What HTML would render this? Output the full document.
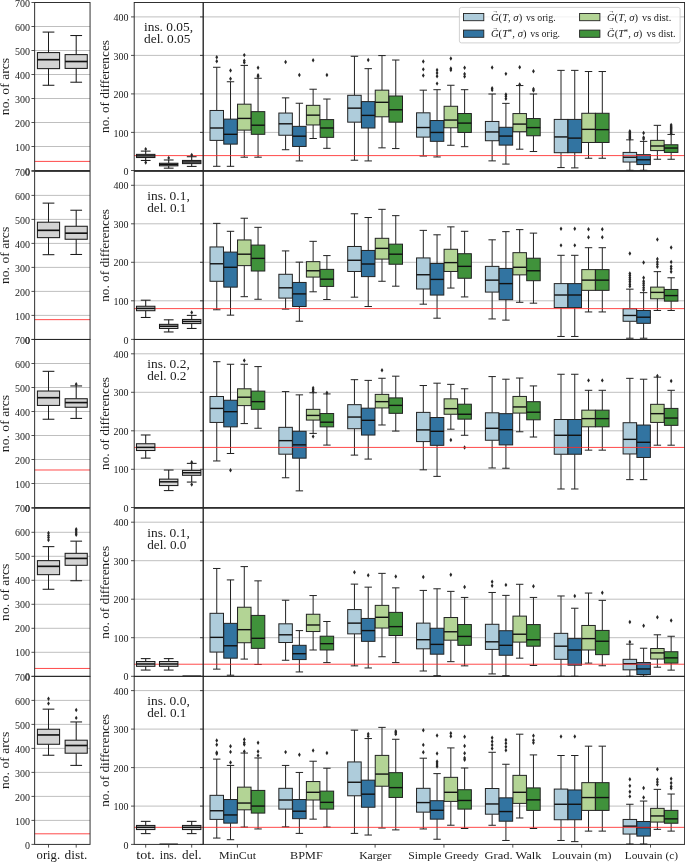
<!DOCTYPE html>
<html><head><meta charset="utf-8"><title>Boxplots</title>
<style>html,body{margin:0;padding:0;background:#fff}svg{display:block}</style></head>
<body>
<svg width="685" height="862" viewBox="0 0 685 862" font-family='"Liberation Serif", "DejaVu Serif", serif' fill="#1a1a1a">
<rect width="685" height="862" fill="#ffffff"/>
<line x1="34.65" y1="146.5" x2="90.05" y2="146.5" stroke="#b8b8b8" stroke-width="0.9"/>
<line x1="34.65" y1="122.5" x2="90.05" y2="122.5" stroke="#b8b8b8" stroke-width="0.9"/>
<line x1="34.65" y1="98.5" x2="90.05" y2="98.5" stroke="#b8b8b8" stroke-width="0.9"/>
<line x1="34.65" y1="74.5" x2="90.05" y2="74.5" stroke="#b8b8b8" stroke-width="0.9"/>
<line x1="34.65" y1="50.5" x2="90.05" y2="50.5" stroke="#b8b8b8" stroke-width="0.9"/>
<line x1="34.65" y1="26.5" x2="90.05" y2="26.5" stroke="#b8b8b8" stroke-width="0.9"/>
<line x1="134.2" y1="132.4" x2="684.6" y2="132.4" stroke="#b8b8b8" stroke-width="0.9"/>
<line x1="134.2" y1="93.9" x2="684.6" y2="93.9" stroke="#b8b8b8" stroke-width="0.9"/>
<line x1="134.2" y1="55.4" x2="684.6" y2="55.4" stroke="#b8b8b8" stroke-width="0.9"/>
<line x1="134.2" y1="16.9" x2="684.6" y2="16.9" stroke="#b8b8b8" stroke-width="0.9"/>
<line x1="48.5" y1="68.62" x2="48.5" y2="85.27" stroke="#1c1c1c" stroke-width="1.05"/>
<line x1="48.5" y1="52.58" x2="48.5" y2="32.08" stroke="#1c1c1c" stroke-width="1.05"/>
<line x1="42.63" y1="85.27" x2="54.37" y2="85.27" stroke="#1c1c1c" stroke-width="1.05"/>
<line x1="42.63" y1="32.08" x2="54.37" y2="32.08" stroke="#1c1c1c" stroke-width="1.05"/>
<rect x="37.42" y="52.58" width="22.16" height="16.04" fill="#d3d3d3" stroke="#1c1c1c" stroke-width="1.05"/>
<line x1="37.42" y1="59.69" x2="59.58" y2="59.69" stroke="#111111" stroke-width="1.65"/>
<line x1="76.2" y1="68.42" x2="76.2" y2="82.22" stroke="#1c1c1c" stroke-width="1.05"/>
<line x1="76.2" y1="54.61" x2="76.2" y2="35.53" stroke="#1c1c1c" stroke-width="1.05"/>
<line x1="70.33" y1="82.22" x2="82.07" y2="82.22" stroke="#1c1c1c" stroke-width="1.05"/>
<line x1="70.33" y1="35.53" x2="82.07" y2="35.53" stroke="#1c1c1c" stroke-width="1.05"/>
<rect x="65.12" y="54.61" width="22.16" height="13.81" fill="#d3d3d3" stroke="#1c1c1c" stroke-width="1.05"/>
<line x1="65.12" y1="61.51" x2="87.28" y2="61.51" stroke="#111111" stroke-width="1.65"/>
<line x1="34.65" y1="161.4" x2="90.05" y2="161.4" stroke="#ff2a2a" stroke-width="1.0" stroke-opacity="0.85"/>
<line x1="134.2" y1="155.6" x2="203.2" y2="155.6" stroke="#ff2a2a" stroke-width="1.0" stroke-opacity="0.85"/>
<line x1="145.7" y1="157.53" x2="145.7" y2="160.45" stroke="#1c1c1c" stroke-width="1.05"/>
<line x1="145.7" y1="154.38" x2="145.7" y2="151.11" stroke="#1c1c1c" stroke-width="1.05"/>
<line x1="140.82" y1="160.45" x2="150.58" y2="160.45" stroke="#1c1c1c" stroke-width="1.05"/>
<line x1="140.82" y1="151.11" x2="150.58" y2="151.11" stroke="#1c1c1c" stroke-width="1.05"/>
<rect x="136.5" y="154.38" width="18.4" height="3.15" fill="#d3d3d3" stroke="#1c1c1c" stroke-width="1.05"/>
<line x1="136.5" y1="155.9" x2="154.9" y2="155.9" stroke="#111111" stroke-width="1.5"/>
<path d="M145.7 146.88L147.1 149.12L145.7 151.36L144.3 149.12Z" fill="#262626"/>
<path d="M145.7 160.31L147.1 162.55L145.7 164.79L144.3 162.55Z" fill="#262626"/>
<line x1="168.7" y1="165.82" x2="168.7" y2="168.16" stroke="#1c1c1c" stroke-width="1.05"/>
<line x1="168.7" y1="163.26" x2="168.7" y2="159.99" stroke="#1c1c1c" stroke-width="1.05"/>
<line x1="163.82" y1="168.16" x2="173.58" y2="168.16" stroke="#1c1c1c" stroke-width="1.05"/>
<line x1="163.82" y1="159.99" x2="173.58" y2="159.99" stroke="#1c1c1c" stroke-width="1.05"/>
<rect x="159.5" y="163.26" width="18.4" height="2.57" fill="#d3d3d3" stroke="#1c1c1c" stroke-width="1.05"/>
<line x1="159.5" y1="164.54" x2="177.9" y2="164.54" stroke="#111111" stroke-width="1.5"/>
<path d="M168.7 155.64L170.1 157.88L168.7 160.12L167.3 157.88Z" fill="#262626"/>
<line x1="191.7" y1="163.61" x2="191.7" y2="166.41" stroke="#1c1c1c" stroke-width="1.05"/>
<line x1="191.7" y1="160.45" x2="191.7" y2="156.72" stroke="#1c1c1c" stroke-width="1.05"/>
<line x1="186.82" y1="166.41" x2="196.58" y2="166.41" stroke="#1c1c1c" stroke-width="1.05"/>
<line x1="186.82" y1="156.72" x2="196.58" y2="156.72" stroke="#1c1c1c" stroke-width="1.05"/>
<rect x="182.5" y="160.45" width="18.4" height="3.15" fill="#d3d3d3" stroke="#1c1c1c" stroke-width="1.05"/>
<line x1="182.5" y1="161.97" x2="200.9" y2="161.97" stroke="#111111" stroke-width="1.5"/>
<path d="M191.7 152.72L193.1 154.96L191.7 157.2L190.3 154.96Z" fill="#262626"/>
<line x1="216.75" y1="140.38" x2="216.75" y2="166.31" stroke="#222222" stroke-width="1.0"/>
<line x1="216.75" y1="110.48" x2="216.75" y2="67.27" stroke="#222222" stroke-width="1.0"/>
<line x1="213.03" y1="166.31" x2="220.46" y2="166.31" stroke="#222222" stroke-width="1.0"/>
<line x1="213.03" y1="67.27" x2="220.46" y2="67.27" stroke="#222222" stroke-width="1.0"/>
<rect x="210" y="110.48" width="13.49" height="29.9" fill="#aeccdb" stroke="#222222" stroke-width="1.0"/>
<line x1="210" y1="128" x2="223.49" y2="128" stroke="#111111" stroke-width="1.4"/>
<path d="M216.75 58.96L218.15 61.2L216.75 63.44L215.34 61.2Z" fill="#262626"/>
<path d="M216.75 54.99L218.15 57.23L216.75 59.47L215.34 57.23Z" fill="#262626"/>
<line x1="230.52" y1="144.12" x2="230.52" y2="166.31" stroke="#222222" stroke-width="1.0"/>
<line x1="230.52" y1="119.12" x2="230.52" y2="81.75" stroke="#222222" stroke-width="1.0"/>
<line x1="226.8" y1="166.31" x2="234.23" y2="166.31" stroke="#222222" stroke-width="1.0"/>
<line x1="226.8" y1="81.75" x2="234.23" y2="81.75" stroke="#222222" stroke-width="1.0"/>
<rect x="223.77" y="119.12" width="13.49" height="24.99" fill="#3274a1" stroke="#222222" stroke-width="1.0"/>
<line x1="223.77" y1="134.31" x2="237.26" y2="134.31" stroke="#111111" stroke-width="1.4"/>
<path d="M230.52 76.48L231.92 78.72L230.52 80.96L229.12 78.72Z" fill="#262626"/>
<path d="M230.52 68.3L231.92 70.54L230.52 72.78L229.12 70.54Z" fill="#262626"/>
<line x1="244.28" y1="130.1" x2="244.28" y2="157.2" stroke="#222222" stroke-width="1.0"/>
<line x1="244.28" y1="104.18" x2="244.28" y2="65.4" stroke="#222222" stroke-width="1.0"/>
<line x1="240.57" y1="157.2" x2="248" y2="157.2" stroke="#222222" stroke-width="1.0"/>
<line x1="240.57" y1="65.4" x2="248" y2="65.4" stroke="#222222" stroke-width="1.0"/>
<rect x="237.54" y="104.18" width="13.49" height="25.93" fill="#b3d495" stroke="#222222" stroke-width="1.0"/>
<line x1="237.54" y1="118.42" x2="251.03" y2="118.42" stroke="#111111" stroke-width="1.4"/>
<path d="M244.28 60.36L245.69 62.6L244.28 64.84L242.88 62.6Z" fill="#262626"/>
<path d="M244.28 58.49L245.69 60.73L244.28 62.97L242.88 60.73Z" fill="#262626"/>
<path d="M244.28 52.88L245.69 55.12L244.28 57.36L242.88 55.12Z" fill="#262626"/>
<line x1="258.06" y1="134.31" x2="258.06" y2="157.2" stroke="#222222" stroke-width="1.0"/>
<line x1="258.06" y1="111.65" x2="258.06" y2="78.25" stroke="#222222" stroke-width="1.0"/>
<line x1="254.34" y1="157.2" x2="261.77" y2="157.2" stroke="#222222" stroke-width="1.0"/>
<line x1="254.34" y1="78.25" x2="261.77" y2="78.25" stroke="#222222" stroke-width="1.0"/>
<rect x="251.31" y="111.65" width="13.49" height="22.66" fill="#40923b" stroke="#222222" stroke-width="1.0"/>
<line x1="251.31" y1="125.2" x2="264.8" y2="125.2" stroke="#111111" stroke-width="1.4"/>
<path d="M258.06 74.37L259.45 76.61L258.06 78.85L256.66 76.61Z" fill="#262626"/>
<path d="M258.06 72.97L259.45 75.21L258.06 77.45L256.66 75.21Z" fill="#262626"/>
<path d="M258.06 65.5L259.45 67.74L258.06 69.98L256.66 67.74Z" fill="#262626"/>
<line x1="285.6" y1="135.24" x2="285.6" y2="149.72" stroke="#222222" stroke-width="1.0"/>
<line x1="285.6" y1="113.05" x2="285.6" y2="97.87" stroke="#222222" stroke-width="1.0"/>
<line x1="281.88" y1="149.72" x2="289.31" y2="149.72" stroke="#222222" stroke-width="1.0"/>
<line x1="281.88" y1="97.87" x2="289.31" y2="97.87" stroke="#222222" stroke-width="1.0"/>
<rect x="278.85" y="113.05" width="13.49" height="22.19" fill="#aeccdb" stroke="#222222" stroke-width="1.0"/>
<line x1="278.85" y1="123.8" x2="292.34" y2="123.8" stroke="#111111" stroke-width="1.4"/>
<path d="M285.6 59.66L287 61.9L285.6 64.14L284.2 61.9Z" fill="#262626"/>
<line x1="299.37" y1="146.45" x2="299.37" y2="160.93" stroke="#222222" stroke-width="1.0"/>
<line x1="299.37" y1="126.36" x2="299.37" y2="103.24" stroke="#222222" stroke-width="1.0"/>
<line x1="295.65" y1="160.93" x2="303.08" y2="160.93" stroke="#222222" stroke-width="1.0"/>
<line x1="295.65" y1="103.24" x2="303.08" y2="103.24" stroke="#222222" stroke-width="1.0"/>
<rect x="292.62" y="126.36" width="13.49" height="20.09" fill="#3274a1" stroke="#222222" stroke-width="1.0"/>
<line x1="292.62" y1="136.18" x2="306.11" y2="136.18" stroke="#111111" stroke-width="1.4"/>
<path d="M299.37 72.74L300.76 74.98L299.37 77.22L297.97 74.98Z" fill="#262626"/>
<line x1="313.13" y1="124.96" x2="313.13" y2="138.51" stroke="#222222" stroke-width="1.0"/>
<line x1="313.13" y1="105.34" x2="313.13" y2="89.23" stroke="#222222" stroke-width="1.0"/>
<line x1="309.42" y1="138.51" x2="316.85" y2="138.51" stroke="#222222" stroke-width="1.0"/>
<line x1="309.42" y1="89.23" x2="316.85" y2="89.23" stroke="#222222" stroke-width="1.0"/>
<rect x="306.39" y="105.34" width="13.49" height="19.62" fill="#b3d495" stroke="#222222" stroke-width="1.0"/>
<line x1="306.39" y1="115.15" x2="319.88" y2="115.15" stroke="#111111" stroke-width="1.4"/>
<path d="M313.13 58.02L314.53 60.26L313.13 62.5L311.74 60.26Z" fill="#262626"/>
<line x1="326.91" y1="137.34" x2="326.91" y2="148.32" stroke="#222222" stroke-width="1.0"/>
<line x1="326.91" y1="119.59" x2="326.91" y2="99.04" stroke="#222222" stroke-width="1.0"/>
<line x1="323.19" y1="148.32" x2="330.62" y2="148.32" stroke="#222222" stroke-width="1.0"/>
<line x1="323.19" y1="99.04" x2="330.62" y2="99.04" stroke="#222222" stroke-width="1.0"/>
<rect x="320.16" y="119.59" width="13.49" height="17.75" fill="#40923b" stroke="#222222" stroke-width="1.0"/>
<line x1="320.16" y1="128" x2="333.65" y2="128" stroke="#111111" stroke-width="1.4"/>
<path d="M326.91 72.74L328.31 74.98L326.91 77.22L325.51 74.98Z" fill="#262626"/>
<line x1="354.45" y1="122.16" x2="354.45" y2="160.23" stroke="#222222" stroke-width="1.0"/>
<line x1="354.45" y1="95.3" x2="354.45" y2="56.29" stroke="#222222" stroke-width="1.0"/>
<line x1="350.73" y1="160.23" x2="358.16" y2="160.23" stroke="#222222" stroke-width="1.0"/>
<line x1="350.73" y1="56.29" x2="358.16" y2="56.29" stroke="#222222" stroke-width="1.0"/>
<rect x="347.7" y="95.3" width="13.49" height="26.86" fill="#aeccdb" stroke="#222222" stroke-width="1.0"/>
<line x1="347.7" y1="108.15" x2="361.19" y2="108.15" stroke="#111111" stroke-width="1.4"/>
<line x1="368.22" y1="128" x2="368.22" y2="160.93" stroke="#222222" stroke-width="1.0"/>
<line x1="368.22" y1="101.61" x2="368.22" y2="68.67" stroke="#222222" stroke-width="1.0"/>
<line x1="364.5" y1="160.93" x2="371.93" y2="160.93" stroke="#222222" stroke-width="1.0"/>
<line x1="364.5" y1="68.67" x2="371.93" y2="68.67" stroke="#222222" stroke-width="1.0"/>
<rect x="361.47" y="101.61" width="13.49" height="26.39" fill="#3274a1" stroke="#222222" stroke-width="1.0"/>
<line x1="361.47" y1="115.39" x2="374.96" y2="115.39" stroke="#111111" stroke-width="1.4"/>
<path d="M368.22 57.79L369.62 60.03L368.22 62.27L366.82 60.03Z" fill="#262626"/>
<line x1="381.99" y1="116.79" x2="381.99" y2="147.85" stroke="#222222" stroke-width="1.0"/>
<line x1="381.99" y1="90.16" x2="381.99" y2="55.59" stroke="#222222" stroke-width="1.0"/>
<line x1="378.27" y1="147.85" x2="385.7" y2="147.85" stroke="#222222" stroke-width="1.0"/>
<line x1="378.27" y1="55.59" x2="385.7" y2="55.59" stroke="#222222" stroke-width="1.0"/>
<rect x="375.24" y="90.16" width="13.49" height="26.63" fill="#b3d495" stroke="#222222" stroke-width="1.0"/>
<line x1="375.24" y1="102.31" x2="388.73" y2="102.31" stroke="#111111" stroke-width="1.4"/>
<line x1="395.76" y1="122.16" x2="395.76" y2="148.55" stroke="#222222" stroke-width="1.0"/>
<line x1="395.76" y1="96" x2="395.76" y2="60.03" stroke="#222222" stroke-width="1.0"/>
<line x1="392.04" y1="148.55" x2="399.47" y2="148.55" stroke="#222222" stroke-width="1.0"/>
<line x1="392.04" y1="60.03" x2="399.47" y2="60.03" stroke="#222222" stroke-width="1.0"/>
<rect x="389.01" y="96" width="13.49" height="26.16" fill="#40923b" stroke="#222222" stroke-width="1.0"/>
<line x1="389.01" y1="109.78" x2="402.5" y2="109.78" stroke="#111111" stroke-width="1.4"/>
<line x1="423.3" y1="137.11" x2="423.3" y2="156.03" stroke="#222222" stroke-width="1.0"/>
<line x1="423.3" y1="112.82" x2="423.3" y2="90.16" stroke="#222222" stroke-width="1.0"/>
<line x1="419.58" y1="156.03" x2="427.01" y2="156.03" stroke="#222222" stroke-width="1.0"/>
<line x1="419.58" y1="90.16" x2="427.01" y2="90.16" stroke="#222222" stroke-width="1.0"/>
<rect x="416.55" y="112.82" width="13.49" height="24.29" fill="#aeccdb" stroke="#222222" stroke-width="1.0"/>
<line x1="416.55" y1="127.53" x2="430.04" y2="127.53" stroke="#111111" stroke-width="1.4"/>
<path d="M423.3 73.21L424.69 75.45L423.3 77.69L421.9 75.45Z" fill="#262626"/>
<path d="M423.3 67.13L424.69 69.37L423.3 71.61L421.9 69.37Z" fill="#262626"/>
<path d="M423.3 59.19L424.69 61.43L423.3 63.67L421.9 61.43Z" fill="#262626"/>
<line x1="437.06" y1="141.31" x2="437.06" y2="156.96" stroke="#222222" stroke-width="1.0"/>
<line x1="437.06" y1="120.53" x2="437.06" y2="89.69" stroke="#222222" stroke-width="1.0"/>
<line x1="433.35" y1="156.96" x2="440.78" y2="156.96" stroke="#222222" stroke-width="1.0"/>
<line x1="433.35" y1="89.69" x2="440.78" y2="89.69" stroke="#222222" stroke-width="1.0"/>
<rect x="430.32" y="120.53" width="13.49" height="20.79" fill="#3274a1" stroke="#222222" stroke-width="1.0"/>
<line x1="430.32" y1="132.44" x2="443.81" y2="132.44" stroke="#111111" stroke-width="1.4"/>
<path d="M437.06 81.38L438.46 83.62L437.06 85.86L435.67 83.62Z" fill="#262626"/>
<path d="M437.06 73.91L438.46 76.15L437.06 78.39L435.67 76.15Z" fill="#262626"/>
<path d="M437.06 70.87L438.46 73.11L437.06 75.35L435.67 73.11Z" fill="#262626"/>
<path d="M437.06 67.83L438.46 70.07L437.06 72.31L435.67 70.07Z" fill="#262626"/>
<line x1="450.83" y1="127.77" x2="450.83" y2="145.28" stroke="#222222" stroke-width="1.0"/>
<line x1="450.83" y1="106.28" x2="450.83" y2="85.26" stroke="#222222" stroke-width="1.0"/>
<line x1="447.12" y1="145.28" x2="454.55" y2="145.28" stroke="#222222" stroke-width="1.0"/>
<line x1="447.12" y1="85.26" x2="454.55" y2="85.26" stroke="#222222" stroke-width="1.0"/>
<rect x="444.09" y="106.28" width="13.49" height="21.49" fill="#b3d495" stroke="#222222" stroke-width="1.0"/>
<line x1="444.09" y1="120.06" x2="457.58" y2="120.06" stroke="#111111" stroke-width="1.4"/>
<path d="M450.83 67.83L452.23 70.07L450.83 72.31L449.44 70.07Z" fill="#262626"/>
<path d="M450.83 66.2L452.23 68.44L450.83 70.68L449.44 68.44Z" fill="#262626"/>
<path d="M450.83 56.15L452.23 58.39L450.83 60.63L449.44 58.39Z" fill="#262626"/>
<line x1="464.61" y1="132.44" x2="464.61" y2="146.69" stroke="#222222" stroke-width="1.0"/>
<line x1="464.61" y1="113.52" x2="464.61" y2="89.69" stroke="#222222" stroke-width="1.0"/>
<line x1="460.89" y1="146.69" x2="468.32" y2="146.69" stroke="#222222" stroke-width="1.0"/>
<line x1="460.89" y1="89.69" x2="468.32" y2="89.69" stroke="#222222" stroke-width="1.0"/>
<rect x="457.86" y="113.52" width="13.49" height="18.92" fill="#40923b" stroke="#222222" stroke-width="1.0"/>
<line x1="457.86" y1="123.09" x2="471.35" y2="123.09" stroke="#111111" stroke-width="1.4"/>
<path d="M464.61 74.37L466 76.61L464.61 78.85L463.21 76.61Z" fill="#262626"/>
<path d="M464.61 71.8L466 74.04L464.61 76.28L463.21 74.04Z" fill="#262626"/>
<path d="M464.61 65.5L466 67.74L464.61 69.98L463.21 67.74Z" fill="#262626"/>
<line x1="492.14" y1="140.73" x2="492.14" y2="160.88" stroke="#222222" stroke-width="1.0"/>
<line x1="492.14" y1="121.46" x2="492.14" y2="94.01" stroke="#222222" stroke-width="1.0"/>
<line x1="488.43" y1="160.88" x2="495.86" y2="160.88" stroke="#222222" stroke-width="1.0"/>
<line x1="488.43" y1="94.01" x2="495.86" y2="94.01" stroke="#222222" stroke-width="1.0"/>
<rect x="485.4" y="121.46" width="13.49" height="19.27" fill="#aeccdb" stroke="#222222" stroke-width="1.0"/>
<line x1="485.4" y1="131.97" x2="498.89" y2="131.97" stroke="#111111" stroke-width="1.4"/>
<path d="M492.14 87.69L493.54 89.93L492.14 92.17L490.75 89.93Z" fill="#262626"/>
<path d="M492.14 85.94L493.54 88.18L492.14 90.42L490.75 88.18Z" fill="#262626"/>
<path d="M492.14 65.21L493.54 67.45L492.14 69.69L490.75 67.45Z" fill="#262626"/>
<line x1="505.91" y1="145.11" x2="505.91" y2="164.09" stroke="#222222" stroke-width="1.0"/>
<line x1="505.91" y1="127.3" x2="505.91" y2="103.36" stroke="#222222" stroke-width="1.0"/>
<line x1="502.2" y1="164.09" x2="509.63" y2="164.09" stroke="#222222" stroke-width="1.0"/>
<line x1="502.2" y1="103.36" x2="509.63" y2="103.36" stroke="#222222" stroke-width="1.0"/>
<rect x="499.17" y="127.3" width="13.49" height="17.81" fill="#3274a1" stroke="#222222" stroke-width="1.0"/>
<line x1="499.17" y1="136.06" x2="512.66" y2="136.06" stroke="#111111" stroke-width="1.4"/>
<path d="M505.91 96.45L507.31 98.69L505.91 100.93L504.51 98.69Z" fill="#262626"/>
<path d="M505.91 94.11L507.31 96.35L505.91 98.59L504.51 96.35Z" fill="#262626"/>
<path d="M505.91 92.36L507.31 94.6L505.91 96.84L504.51 94.6Z" fill="#262626"/>
<path d="M505.91 71.63L507.31 73.87L505.91 76.11L504.51 73.87Z" fill="#262626"/>
<line x1="519.68" y1="131.68" x2="519.68" y2="149.2" stroke="#222222" stroke-width="1.0"/>
<line x1="519.68" y1="113.58" x2="519.68" y2="85.55" stroke="#222222" stroke-width="1.0"/>
<line x1="515.97" y1="149.2" x2="523.4" y2="149.2" stroke="#222222" stroke-width="1.0"/>
<line x1="515.97" y1="85.55" x2="523.4" y2="85.55" stroke="#222222" stroke-width="1.0"/>
<rect x="512.94" y="113.58" width="13.49" height="18.1" fill="#b3d495" stroke="#222222" stroke-width="1.0"/>
<line x1="512.94" y1="124.09" x2="526.43" y2="124.09" stroke="#111111" stroke-width="1.4"/>
<path d="M519.68 82.14L521.08 84.38L519.68 86.62L518.28 84.38Z" fill="#262626"/>
<path d="M519.68 64.91L521.08 67.15L519.68 69.39L518.28 67.15Z" fill="#262626"/>
<line x1="533.45" y1="135.77" x2="533.45" y2="151.53" stroke="#222222" stroke-width="1.0"/>
<line x1="533.45" y1="118.54" x2="533.45" y2="94.01" stroke="#222222" stroke-width="1.0"/>
<line x1="529.74" y1="151.53" x2="537.17" y2="151.53" stroke="#222222" stroke-width="1.0"/>
<line x1="529.74" y1="94.01" x2="537.17" y2="94.01" stroke="#222222" stroke-width="1.0"/>
<rect x="526.71" y="118.54" width="13.49" height="17.23" fill="#40923b" stroke="#222222" stroke-width="1.0"/>
<line x1="526.71" y1="127.59" x2="540.2" y2="127.59" stroke="#111111" stroke-width="1.4"/>
<path d="M533.45 88.27L534.85 90.51L533.45 92.75L532.05 90.51Z" fill="#262626"/>
<path d="M533.45 86.81L534.85 89.05L533.45 91.29L532.05 89.05Z" fill="#262626"/>
<path d="M533.45 69L534.85 71.24L533.45 73.48L532.05 71.24Z" fill="#262626"/>
<line x1="561" y1="152.7" x2="561" y2="167.59" stroke="#222222" stroke-width="1.0"/>
<line x1="561" y1="119.42" x2="561" y2="70.36" stroke="#222222" stroke-width="1.0"/>
<line x1="557.28" y1="167.59" x2="564.71" y2="167.59" stroke="#222222" stroke-width="1.0"/>
<line x1="557.28" y1="70.36" x2="564.71" y2="70.36" stroke="#222222" stroke-width="1.0"/>
<rect x="554.25" y="119.42" width="13.49" height="33.28" fill="#aeccdb" stroke="#222222" stroke-width="1.0"/>
<line x1="554.25" y1="136.93" x2="567.74" y2="136.93" stroke="#111111" stroke-width="1.4"/>
<line x1="574.76" y1="152.7" x2="574.76" y2="167.88" stroke="#222222" stroke-width="1.0"/>
<line x1="574.76" y1="119.42" x2="574.76" y2="70.36" stroke="#222222" stroke-width="1.0"/>
<line x1="571.05" y1="167.88" x2="578.48" y2="167.88" stroke="#222222" stroke-width="1.0"/>
<line x1="571.05" y1="70.36" x2="578.48" y2="70.36" stroke="#222222" stroke-width="1.0"/>
<rect x="568.02" y="119.42" width="13.49" height="33.28" fill="#3274a1" stroke="#222222" stroke-width="1.0"/>
<line x1="568.02" y1="138.1" x2="581.51" y2="138.1" stroke="#111111" stroke-width="1.4"/>
<line x1="588.53" y1="142.48" x2="588.53" y2="158.25" stroke="#222222" stroke-width="1.0"/>
<line x1="588.53" y1="113.28" x2="588.53" y2="71.53" stroke="#222222" stroke-width="1.0"/>
<line x1="584.82" y1="158.25" x2="592.25" y2="158.25" stroke="#222222" stroke-width="1.0"/>
<line x1="584.82" y1="71.53" x2="592.25" y2="71.53" stroke="#222222" stroke-width="1.0"/>
<rect x="581.79" y="113.28" width="13.49" height="29.2" fill="#b3d495" stroke="#222222" stroke-width="1.0"/>
<line x1="581.79" y1="129.34" x2="595.28" y2="129.34" stroke="#111111" stroke-width="1.4"/>
<line x1="602.3" y1="142.48" x2="602.3" y2="158.25" stroke="#222222" stroke-width="1.0"/>
<line x1="602.3" y1="113.28" x2="602.3" y2="71.53" stroke="#222222" stroke-width="1.0"/>
<line x1="598.59" y1="158.25" x2="606.02" y2="158.25" stroke="#222222" stroke-width="1.0"/>
<line x1="598.59" y1="71.53" x2="606.02" y2="71.53" stroke="#222222" stroke-width="1.0"/>
<rect x="595.56" y="113.28" width="13.49" height="29.2" fill="#40923b" stroke="#222222" stroke-width="1.0"/>
<line x1="595.56" y1="129.64" x2="609.05" y2="129.64" stroke="#111111" stroke-width="1.4"/>
<line x1="629.85" y1="162.03" x2="629.85" y2="170.31" stroke="#222222" stroke-width="1.0"/>
<line x1="629.85" y1="152.42" x2="629.85" y2="139.85" stroke="#222222" stroke-width="1.0"/>
<line x1="626.13" y1="170.31" x2="633.56" y2="170.31" stroke="#222222" stroke-width="1.0"/>
<line x1="626.13" y1="139.85" x2="633.56" y2="139.85" stroke="#222222" stroke-width="1.0"/>
<rect x="623.1" y="152.42" width="13.49" height="9.61" fill="#aeccdb" stroke="#222222" stroke-width="1.0"/>
<line x1="623.1" y1="157.23" x2="636.59" y2="157.23" stroke="#111111" stroke-width="1.4"/>
<path d="M629.85 136.39L631.25 138.63L629.85 140.87L628.45 138.63Z" fill="#262626"/>
<path d="M629.85 135.16L631.25 137.4L629.85 139.64L628.45 137.4Z" fill="#262626"/>
<path d="M629.85 133.94L631.25 136.18L629.85 138.42L628.45 136.18Z" fill="#262626"/>
<path d="M629.85 132.71L631.25 134.95L629.85 137.19L628.45 134.95Z" fill="#262626"/>
<path d="M629.85 131.48L631.25 133.72L629.85 135.96L628.45 133.72Z" fill="#262626"/>
<path d="M629.85 130.26L631.25 132.5L629.85 134.74L628.45 132.5Z" fill="#262626"/>
<path d="M629.85 129.03L631.25 131.27L629.85 133.51L628.45 131.27Z" fill="#262626"/>
<line x1="643.62" y1="164.58" x2="643.62" y2="170.31" stroke="#222222" stroke-width="1.0"/>
<line x1="643.62" y1="154.67" x2="643.62" y2="141.39" stroke="#222222" stroke-width="1.0"/>
<line x1="639.9" y1="170.31" x2="647.33" y2="170.31" stroke="#222222" stroke-width="1.0"/>
<line x1="639.9" y1="141.39" x2="647.33" y2="141.39" stroke="#222222" stroke-width="1.0"/>
<rect x="636.87" y="154.67" width="13.49" height="9.91" fill="#3274a1" stroke="#222222" stroke-width="1.0"/>
<line x1="636.87" y1="159.78" x2="650.36" y2="159.78" stroke="#111111" stroke-width="1.4"/>
<path d="M643.62 136.8L645.01 139.04L643.62 141.28L642.22 139.04Z" fill="#262626"/>
<path d="M643.62 135.16L645.01 137.4L643.62 139.64L642.22 137.4Z" fill="#262626"/>
<path d="M643.62 130.67L645.01 132.91L643.62 135.15L642.22 132.91Z" fill="#262626"/>
<line x1="657.38" y1="150.58" x2="657.38" y2="159.27" stroke="#222222" stroke-width="1.0"/>
<line x1="657.38" y1="140.36" x2="657.38" y2="125.34" stroke="#222222" stroke-width="1.0"/>
<line x1="653.67" y1="159.27" x2="661.1" y2="159.27" stroke="#222222" stroke-width="1.0"/>
<line x1="653.67" y1="125.34" x2="661.1" y2="125.34" stroke="#222222" stroke-width="1.0"/>
<rect x="650.64" y="140.36" width="13.49" height="10.22" fill="#b3d495" stroke="#222222" stroke-width="1.0"/>
<line x1="650.64" y1="145.99" x2="664.13" y2="145.99" stroke="#111111" stroke-width="1.4"/>
<line x1="671.15" y1="152.42" x2="671.15" y2="159.27" stroke="#222222" stroke-width="1.0"/>
<line x1="671.15" y1="144.76" x2="671.15" y2="134.44" stroke="#222222" stroke-width="1.0"/>
<line x1="667.44" y1="159.27" x2="674.87" y2="159.27" stroke="#222222" stroke-width="1.0"/>
<line x1="667.44" y1="134.44" x2="674.87" y2="134.44" stroke="#222222" stroke-width="1.0"/>
<rect x="664.41" y="144.76" width="13.49" height="7.66" fill="#40923b" stroke="#222222" stroke-width="1.0"/>
<line x1="664.41" y1="148.03" x2="677.9" y2="148.03" stroke="#111111" stroke-width="1.4"/>
<path d="M671.15 131.28L672.55 133.52L671.15 135.76L669.75 133.52Z" fill="#262626"/>
<path d="M671.15 130.05L672.55 132.29L671.15 134.53L669.75 132.29Z" fill="#262626"/>
<path d="M671.15 128.83L672.55 131.07L671.15 133.31L669.75 131.07Z" fill="#262626"/>
<path d="M671.15 127.6L672.55 129.84L671.15 132.08L669.75 129.84Z" fill="#262626"/>
<path d="M671.15 126.37L672.55 128.61L671.15 130.85L669.75 128.61Z" fill="#262626"/>
<path d="M671.15 125.15L672.55 127.39L671.15 129.63L669.75 127.39Z" fill="#262626"/>
<path d="M671.15 123.92L672.55 126.16L671.15 128.4L669.75 126.16Z" fill="#262626"/>
<path d="M671.15 122.69L672.55 124.93L671.15 127.17L669.75 124.93Z" fill="#262626"/>
<line x1="203.2" y1="155.6" x2="684.6" y2="155.6" stroke="#ff2a2a" stroke-width="1.0" stroke-opacity="0.85"/>
<line x1="34.65" y1="315.4" x2="90.05" y2="315.4" stroke="#b8b8b8" stroke-width="0.9"/>
<line x1="34.65" y1="291.4" x2="90.05" y2="291.4" stroke="#b8b8b8" stroke-width="0.9"/>
<line x1="34.65" y1="267.4" x2="90.05" y2="267.4" stroke="#b8b8b8" stroke-width="0.9"/>
<line x1="34.65" y1="243.4" x2="90.05" y2="243.4" stroke="#b8b8b8" stroke-width="0.9"/>
<line x1="34.65" y1="219.4" x2="90.05" y2="219.4" stroke="#b8b8b8" stroke-width="0.9"/>
<line x1="34.65" y1="195.4" x2="90.05" y2="195.4" stroke="#b8b8b8" stroke-width="0.9"/>
<line x1="134.2" y1="300.8" x2="684.6" y2="300.8" stroke="#b8b8b8" stroke-width="0.9"/>
<line x1="134.2" y1="262.3" x2="684.6" y2="262.3" stroke="#b8b8b8" stroke-width="0.9"/>
<line x1="134.2" y1="223.8" x2="684.6" y2="223.8" stroke="#b8b8b8" stroke-width="0.9"/>
<line x1="134.2" y1="185.3" x2="684.6" y2="185.3" stroke="#b8b8b8" stroke-width="0.9"/>
<line x1="48.5" y1="237.63" x2="48.5" y2="254.69" stroke="#1c1c1c" stroke-width="1.05"/>
<line x1="48.5" y1="222.21" x2="48.5" y2="203.12" stroke="#1c1c1c" stroke-width="1.05"/>
<line x1="42.63" y1="254.69" x2="54.37" y2="254.69" stroke="#1c1c1c" stroke-width="1.05"/>
<line x1="42.63" y1="203.12" x2="54.37" y2="203.12" stroke="#1c1c1c" stroke-width="1.05"/>
<rect x="37.42" y="222.21" width="22.16" height="15.43" fill="#d3d3d3" stroke="#1c1c1c" stroke-width="1.05"/>
<line x1="37.42" y1="230.33" x2="59.58" y2="230.33" stroke="#111111" stroke-width="1.65"/>
<line x1="76.2" y1="239.26" x2="76.2" y2="254.48" stroke="#1c1c1c" stroke-width="1.05"/>
<line x1="76.2" y1="226.27" x2="76.2" y2="210.23" stroke="#1c1c1c" stroke-width="1.05"/>
<line x1="70.33" y1="254.48" x2="82.07" y2="254.48" stroke="#1c1c1c" stroke-width="1.05"/>
<line x1="70.33" y1="210.23" x2="82.07" y2="210.23" stroke="#1c1c1c" stroke-width="1.05"/>
<rect x="65.12" y="226.27" width="22.16" height="12.99" fill="#d3d3d3" stroke="#1c1c1c" stroke-width="1.05"/>
<line x1="65.12" y1="233.17" x2="87.28" y2="233.17" stroke="#111111" stroke-width="1.65"/>
<line x1="34.65" y1="319.65" x2="90.05" y2="319.65" stroke="#ff2a2a" stroke-width="1.0" stroke-opacity="0.85"/>
<line x1="134.2" y1="308.61" x2="203.2" y2="308.61" stroke="#ff2a2a" stroke-width="1.0" stroke-opacity="0.85"/>
<line x1="145.7" y1="310.7" x2="145.7" y2="317.47" stroke="#1c1c1c" stroke-width="1.05"/>
<line x1="145.7" y1="306.26" x2="145.7" y2="300.19" stroke="#1c1c1c" stroke-width="1.05"/>
<line x1="140.82" y1="317.47" x2="150.58" y2="317.47" stroke="#1c1c1c" stroke-width="1.05"/>
<line x1="140.82" y1="300.19" x2="150.58" y2="300.19" stroke="#1c1c1c" stroke-width="1.05"/>
<rect x="136.5" y="306.26" width="18.4" height="4.44" fill="#d3d3d3" stroke="#1c1c1c" stroke-width="1.05"/>
<line x1="136.5" y1="308.42" x2="154.9" y2="308.42" stroke="#111111" stroke-width="1.5"/>
<line x1="168.7" y1="328.45" x2="168.7" y2="331.96" stroke="#1c1c1c" stroke-width="1.05"/>
<line x1="168.7" y1="324.36" x2="168.7" y2="319.81" stroke="#1c1c1c" stroke-width="1.05"/>
<line x1="163.82" y1="331.96" x2="173.58" y2="331.96" stroke="#1c1c1c" stroke-width="1.05"/>
<line x1="163.82" y1="319.81" x2="173.58" y2="319.81" stroke="#1c1c1c" stroke-width="1.05"/>
<rect x="159.5" y="324.36" width="18.4" height="4.09" fill="#d3d3d3" stroke="#1c1c1c" stroke-width="1.05"/>
<line x1="159.5" y1="326.23" x2="177.9" y2="326.23" stroke="#111111" stroke-width="1.5"/>
<line x1="191.7" y1="323.55" x2="191.7" y2="328.45" stroke="#1c1c1c" stroke-width="1.05"/>
<line x1="191.7" y1="319.46" x2="191.7" y2="315.37" stroke="#1c1c1c" stroke-width="1.05"/>
<line x1="186.82" y1="328.45" x2="196.58" y2="328.45" stroke="#1c1c1c" stroke-width="1.05"/>
<line x1="186.82" y1="315.37" x2="196.58" y2="315.37" stroke="#1c1c1c" stroke-width="1.05"/>
<rect x="182.5" y="319.46" width="18.4" height="4.09" fill="#d3d3d3" stroke="#1c1c1c" stroke-width="1.05"/>
<line x1="182.5" y1="321.45" x2="200.9" y2="321.45" stroke="#111111" stroke-width="1.5"/>
<path d="M191.7 310.21L193.1 312.45L191.7 314.69L190.3 312.45Z" fill="#262626"/>
<line x1="216.75" y1="281.28" x2="216.75" y2="309.78" stroke="#222222" stroke-width="1.0"/>
<line x1="216.75" y1="246.95" x2="216.75" y2="223.36" stroke="#222222" stroke-width="1.0"/>
<line x1="213.03" y1="309.78" x2="220.46" y2="309.78" stroke="#222222" stroke-width="1.0"/>
<line x1="213.03" y1="223.36" x2="220.46" y2="223.36" stroke="#222222" stroke-width="1.0"/>
<rect x="210" y="246.95" width="13.49" height="34.34" fill="#aeccdb" stroke="#222222" stroke-width="1.0"/>
<line x1="210" y1="263.77" x2="223.49" y2="263.77" stroke="#111111" stroke-width="1.4"/>
<line x1="230.52" y1="287.12" x2="230.52" y2="315.15" stroke="#222222" stroke-width="1.0"/>
<line x1="230.52" y1="252.09" x2="230.52" y2="231.3" stroke="#222222" stroke-width="1.0"/>
<line x1="226.8" y1="315.15" x2="234.23" y2="315.15" stroke="#222222" stroke-width="1.0"/>
<line x1="226.8" y1="231.3" x2="234.23" y2="231.3" stroke="#222222" stroke-width="1.0"/>
<rect x="223.77" y="252.09" width="13.49" height="35.04" fill="#3274a1" stroke="#222222" stroke-width="1.0"/>
<line x1="223.77" y1="267.27" x2="237.26" y2="267.27" stroke="#111111" stroke-width="1.4"/>
<line x1="244.28" y1="265.64" x2="244.28" y2="296.7" stroke="#222222" stroke-width="1.0"/>
<line x1="244.28" y1="239.94" x2="244.28" y2="218.22" stroke="#222222" stroke-width="1.0"/>
<line x1="240.57" y1="296.7" x2="248" y2="296.7" stroke="#222222" stroke-width="1.0"/>
<line x1="240.57" y1="218.22" x2="248" y2="218.22" stroke="#222222" stroke-width="1.0"/>
<rect x="237.54" y="239.94" width="13.49" height="25.69" fill="#b3d495" stroke="#222222" stroke-width="1.0"/>
<line x1="237.54" y1="254.19" x2="251.03" y2="254.19" stroke="#111111" stroke-width="1.4"/>
<line x1="258.06" y1="271.01" x2="258.06" y2="299.27" stroke="#222222" stroke-width="1.0"/>
<line x1="258.06" y1="245.08" x2="258.06" y2="227.33" stroke="#222222" stroke-width="1.0"/>
<line x1="254.34" y1="299.27" x2="261.77" y2="299.27" stroke="#222222" stroke-width="1.0"/>
<line x1="254.34" y1="227.33" x2="261.77" y2="227.33" stroke="#222222" stroke-width="1.0"/>
<rect x="251.31" y="245.08" width="13.49" height="25.93" fill="#40923b" stroke="#222222" stroke-width="1.0"/>
<line x1="251.31" y1="258.39" x2="264.8" y2="258.39" stroke="#111111" stroke-width="1.4"/>
<line x1="285.6" y1="298.1" x2="285.6" y2="309.08" stroke="#222222" stroke-width="1.0"/>
<line x1="285.6" y1="274.28" x2="285.6" y2="250.92" stroke="#222222" stroke-width="1.0"/>
<line x1="281.88" y1="309.08" x2="289.31" y2="309.08" stroke="#222222" stroke-width="1.0"/>
<line x1="281.88" y1="250.92" x2="289.31" y2="250.92" stroke="#222222" stroke-width="1.0"/>
<rect x="278.85" y="274.28" width="13.49" height="23.82" fill="#aeccdb" stroke="#222222" stroke-width="1.0"/>
<line x1="278.85" y1="287.82" x2="292.34" y2="287.82" stroke="#111111" stroke-width="1.4"/>
<line x1="299.37" y1="306.51" x2="299.37" y2="321.23" stroke="#222222" stroke-width="1.0"/>
<line x1="299.37" y1="282.45" x2="299.37" y2="262.13" stroke="#222222" stroke-width="1.0"/>
<line x1="295.65" y1="321.23" x2="303.08" y2="321.23" stroke="#222222" stroke-width="1.0"/>
<line x1="295.65" y1="262.13" x2="303.08" y2="262.13" stroke="#222222" stroke-width="1.0"/>
<rect x="292.62" y="282.45" width="13.49" height="24.06" fill="#3274a1" stroke="#222222" stroke-width="1.0"/>
<line x1="292.62" y1="293.9" x2="306.11" y2="293.9" stroke="#111111" stroke-width="1.4"/>
<line x1="313.13" y1="277.08" x2="313.13" y2="291.8" stroke="#222222" stroke-width="1.0"/>
<line x1="313.13" y1="261.66" x2="313.13" y2="241.34" stroke="#222222" stroke-width="1.0"/>
<line x1="309.42" y1="291.8" x2="316.85" y2="291.8" stroke="#222222" stroke-width="1.0"/>
<line x1="309.42" y1="241.34" x2="316.85" y2="241.34" stroke="#222222" stroke-width="1.0"/>
<rect x="306.39" y="261.66" width="13.49" height="15.42" fill="#b3d495" stroke="#222222" stroke-width="1.0"/>
<line x1="306.39" y1="270.77" x2="319.88" y2="270.77" stroke="#111111" stroke-width="1.4"/>
<line x1="326.91" y1="286.42" x2="326.91" y2="299.5" stroke="#222222" stroke-width="1.0"/>
<line x1="326.91" y1="269.37" x2="326.91" y2="255.59" stroke="#222222" stroke-width="1.0"/>
<line x1="323.19" y1="299.5" x2="330.62" y2="299.5" stroke="#222222" stroke-width="1.0"/>
<line x1="323.19" y1="255.59" x2="330.62" y2="255.59" stroke="#222222" stroke-width="1.0"/>
<rect x="320.16" y="269.37" width="13.49" height="17.05" fill="#40923b" stroke="#222222" stroke-width="1.0"/>
<line x1="320.16" y1="279.18" x2="333.65" y2="279.18" stroke="#111111" stroke-width="1.4"/>
<line x1="354.45" y1="271.47" x2="354.45" y2="297.17" stroke="#222222" stroke-width="1.0"/>
<line x1="354.45" y1="246.48" x2="354.45" y2="213.78" stroke="#222222" stroke-width="1.0"/>
<line x1="350.73" y1="297.17" x2="358.16" y2="297.17" stroke="#222222" stroke-width="1.0"/>
<line x1="350.73" y1="213.78" x2="358.16" y2="213.78" stroke="#222222" stroke-width="1.0"/>
<rect x="347.7" y="246.48" width="13.49" height="24.99" fill="#aeccdb" stroke="#222222" stroke-width="1.0"/>
<line x1="347.7" y1="260.26" x2="361.19" y2="260.26" stroke="#111111" stroke-width="1.4"/>
<line x1="368.22" y1="276.61" x2="368.22" y2="306.51" stroke="#222222" stroke-width="1.0"/>
<line x1="368.22" y1="250.45" x2="368.22" y2="217.52" stroke="#222222" stroke-width="1.0"/>
<line x1="364.5" y1="306.51" x2="371.93" y2="306.51" stroke="#222222" stroke-width="1.0"/>
<line x1="364.5" y1="217.52" x2="371.93" y2="217.52" stroke="#222222" stroke-width="1.0"/>
<rect x="361.47" y="250.45" width="13.49" height="26.16" fill="#3274a1" stroke="#222222" stroke-width="1.0"/>
<line x1="361.47" y1="264" x2="374.96" y2="264" stroke="#111111" stroke-width="1.4"/>
<line x1="381.99" y1="259.09" x2="381.99" y2="281.28" stroke="#222222" stroke-width="1.0"/>
<line x1="381.99" y1="238.31" x2="381.99" y2="209.34" stroke="#222222" stroke-width="1.0"/>
<line x1="378.27" y1="281.28" x2="385.7" y2="281.28" stroke="#222222" stroke-width="1.0"/>
<line x1="378.27" y1="209.34" x2="385.7" y2="209.34" stroke="#222222" stroke-width="1.0"/>
<rect x="375.24" y="238.31" width="13.49" height="20.79" fill="#b3d495" stroke="#222222" stroke-width="1.0"/>
<line x1="375.24" y1="248.35" x2="388.73" y2="248.35" stroke="#111111" stroke-width="1.4"/>
<line x1="395.76" y1="264.23" x2="395.76" y2="286.19" stroke="#222222" stroke-width="1.0"/>
<line x1="395.76" y1="244.15" x2="395.76" y2="215.65" stroke="#222222" stroke-width="1.0"/>
<line x1="392.04" y1="286.19" x2="399.47" y2="286.19" stroke="#222222" stroke-width="1.0"/>
<line x1="392.04" y1="215.65" x2="399.47" y2="215.65" stroke="#222222" stroke-width="1.0"/>
<rect x="389.01" y="244.15" width="13.49" height="20.09" fill="#40923b" stroke="#222222" stroke-width="1.0"/>
<line x1="389.01" y1="254.19" x2="402.5" y2="254.19" stroke="#111111" stroke-width="1.4"/>
<line x1="423.3" y1="288.99" x2="423.3" y2="304.18" stroke="#222222" stroke-width="1.0"/>
<line x1="423.3" y1="257.93" x2="423.3" y2="230.36" stroke="#222222" stroke-width="1.0"/>
<line x1="419.58" y1="304.18" x2="427.01" y2="304.18" stroke="#222222" stroke-width="1.0"/>
<line x1="419.58" y1="230.36" x2="427.01" y2="230.36" stroke="#222222" stroke-width="1.0"/>
<rect x="416.55" y="257.93" width="13.49" height="31.07" fill="#aeccdb" stroke="#222222" stroke-width="1.0"/>
<line x1="416.55" y1="274.74" x2="430.04" y2="274.74" stroke="#111111" stroke-width="1.4"/>
<line x1="437.06" y1="295.07" x2="437.06" y2="318.19" stroke="#222222" stroke-width="1.0"/>
<line x1="437.06" y1="263.53" x2="437.06" y2="234.8" stroke="#222222" stroke-width="1.0"/>
<line x1="433.35" y1="318.19" x2="440.78" y2="318.19" stroke="#222222" stroke-width="1.0"/>
<line x1="433.35" y1="234.8" x2="440.78" y2="234.8" stroke="#222222" stroke-width="1.0"/>
<rect x="430.32" y="263.53" width="13.49" height="31.53" fill="#3274a1" stroke="#222222" stroke-width="1.0"/>
<line x1="430.32" y1="279.42" x2="443.81" y2="279.42" stroke="#111111" stroke-width="1.4"/>
<line x1="450.83" y1="271.47" x2="450.83" y2="288.06" stroke="#222222" stroke-width="1.0"/>
<line x1="450.83" y1="249.28" x2="450.83" y2="226.86" stroke="#222222" stroke-width="1.0"/>
<line x1="447.12" y1="288.06" x2="454.55" y2="288.06" stroke="#222222" stroke-width="1.0"/>
<line x1="447.12" y1="226.86" x2="454.55" y2="226.86" stroke="#222222" stroke-width="1.0"/>
<rect x="444.09" y="249.28" width="13.49" height="22.19" fill="#b3d495" stroke="#222222" stroke-width="1.0"/>
<line x1="444.09" y1="262.6" x2="457.58" y2="262.6" stroke="#111111" stroke-width="1.4"/>
<line x1="464.61" y1="278.25" x2="464.61" y2="296.93" stroke="#222222" stroke-width="1.0"/>
<line x1="464.61" y1="253.72" x2="464.61" y2="231.3" stroke="#222222" stroke-width="1.0"/>
<line x1="460.89" y1="296.93" x2="468.32" y2="296.93" stroke="#222222" stroke-width="1.0"/>
<line x1="460.89" y1="231.3" x2="468.32" y2="231.3" stroke="#222222" stroke-width="1.0"/>
<rect x="457.86" y="253.72" width="13.49" height="24.53" fill="#40923b" stroke="#222222" stroke-width="1.0"/>
<line x1="457.86" y1="266.34" x2="471.35" y2="266.34" stroke="#111111" stroke-width="1.4"/>
<line x1="492.14" y1="292.09" x2="492.14" y2="318.95" stroke="#222222" stroke-width="1.0"/>
<line x1="492.14" y1="266.39" x2="492.14" y2="239.82" stroke="#222222" stroke-width="1.0"/>
<line x1="488.43" y1="318.95" x2="495.86" y2="318.95" stroke="#222222" stroke-width="1.0"/>
<line x1="488.43" y1="239.82" x2="495.86" y2="239.82" stroke="#222222" stroke-width="1.0"/>
<rect x="485.4" y="266.39" width="13.49" height="25.69" fill="#aeccdb" stroke="#222222" stroke-width="1.0"/>
<line x1="485.4" y1="280.12" x2="498.89" y2="280.12" stroke="#111111" stroke-width="1.4"/>
<line x1="505.91" y1="299.68" x2="505.91" y2="320.12" stroke="#222222" stroke-width="1.0"/>
<line x1="505.91" y1="268.44" x2="505.91" y2="231.65" stroke="#222222" stroke-width="1.0"/>
<line x1="502.2" y1="320.12" x2="509.63" y2="320.12" stroke="#222222" stroke-width="1.0"/>
<line x1="502.2" y1="231.65" x2="509.63" y2="231.65" stroke="#222222" stroke-width="1.0"/>
<rect x="499.17" y="268.44" width="13.49" height="31.24" fill="#3274a1" stroke="#222222" stroke-width="1.0"/>
<line x1="499.17" y1="283.62" x2="512.66" y2="283.62" stroke="#111111" stroke-width="1.4"/>
<line x1="519.68" y1="274.86" x2="519.68" y2="302.31" stroke="#222222" stroke-width="1.0"/>
<line x1="519.68" y1="252.67" x2="519.68" y2="229.61" stroke="#222222" stroke-width="1.0"/>
<line x1="515.97" y1="302.31" x2="523.4" y2="302.31" stroke="#222222" stroke-width="1.0"/>
<line x1="515.97" y1="229.61" x2="523.4" y2="229.61" stroke="#222222" stroke-width="1.0"/>
<rect x="512.94" y="252.67" width="13.49" height="22.19" fill="#b3d495" stroke="#222222" stroke-width="1.0"/>
<line x1="512.94" y1="267.27" x2="526.43" y2="267.27" stroke="#111111" stroke-width="1.4"/>
<line x1="533.45" y1="280.7" x2="533.45" y2="303.18" stroke="#222222" stroke-width="1.0"/>
<line x1="533.45" y1="258.22" x2="533.45" y2="233.11" stroke="#222222" stroke-width="1.0"/>
<line x1="529.74" y1="303.18" x2="537.17" y2="303.18" stroke="#222222" stroke-width="1.0"/>
<line x1="529.74" y1="233.11" x2="537.17" y2="233.11" stroke="#222222" stroke-width="1.0"/>
<rect x="526.71" y="258.22" width="13.49" height="22.48" fill="#40923b" stroke="#222222" stroke-width="1.0"/>
<line x1="526.71" y1="270.77" x2="540.2" y2="270.77" stroke="#111111" stroke-width="1.4"/>
<line x1="561" y1="307.56" x2="561" y2="336.47" stroke="#222222" stroke-width="1.0"/>
<line x1="561" y1="283.62" x2="561" y2="255.3" stroke="#222222" stroke-width="1.0"/>
<line x1="557.28" y1="336.47" x2="564.71" y2="336.47" stroke="#222222" stroke-width="1.0"/>
<line x1="557.28" y1="255.3" x2="564.71" y2="255.3" stroke="#222222" stroke-width="1.0"/>
<rect x="554.25" y="283.62" width="13.49" height="23.94" fill="#aeccdb" stroke="#222222" stroke-width="1.0"/>
<line x1="554.25" y1="295.01" x2="567.74" y2="295.01" stroke="#111111" stroke-width="1.4"/>
<path d="M561 243.13L562.39 245.37L561 247.61L559.6 245.37Z" fill="#262626"/>
<path d="M561 226.49L562.39 228.73L561 230.97L559.6 228.73Z" fill="#262626"/>
<line x1="574.76" y1="307.56" x2="574.76" y2="336.47" stroke="#222222" stroke-width="1.0"/>
<line x1="574.76" y1="283.62" x2="574.76" y2="255.3" stroke="#222222" stroke-width="1.0"/>
<line x1="571.05" y1="336.47" x2="578.48" y2="336.47" stroke="#222222" stroke-width="1.0"/>
<line x1="571.05" y1="255.3" x2="578.48" y2="255.3" stroke="#222222" stroke-width="1.0"/>
<rect x="568.02" y="283.62" width="13.49" height="23.94" fill="#3274a1" stroke="#222222" stroke-width="1.0"/>
<line x1="568.02" y1="295.01" x2="581.51" y2="295.01" stroke="#111111" stroke-width="1.4"/>
<path d="M574.76 243.13L576.16 245.37L574.76 247.61L573.37 245.37Z" fill="#262626"/>
<path d="M574.76 226.49L576.16 228.73L574.76 230.97L573.37 228.73Z" fill="#262626"/>
<line x1="588.53" y1="290.34" x2="588.53" y2="311.94" stroke="#222222" stroke-width="1.0"/>
<line x1="588.53" y1="269.61" x2="588.53" y2="247.71" stroke="#222222" stroke-width="1.0"/>
<line x1="584.82" y1="311.94" x2="592.25" y2="311.94" stroke="#222222" stroke-width="1.0"/>
<line x1="584.82" y1="247.71" x2="592.25" y2="247.71" stroke="#222222" stroke-width="1.0"/>
<rect x="581.79" y="269.61" width="13.49" height="20.73" fill="#b3d495" stroke="#222222" stroke-width="1.0"/>
<line x1="581.79" y1="280.12" x2="595.28" y2="280.12" stroke="#111111" stroke-width="1.4"/>
<path d="M588.53 234.96L589.93 237.2L588.53 239.44L587.13 237.2Z" fill="#262626"/>
<path d="M588.53 227.07L589.93 229.31L588.53 231.55L587.13 229.31Z" fill="#262626"/>
<line x1="602.3" y1="290.34" x2="602.3" y2="311.94" stroke="#222222" stroke-width="1.0"/>
<line x1="602.3" y1="269.61" x2="602.3" y2="247.71" stroke="#222222" stroke-width="1.0"/>
<line x1="598.59" y1="311.94" x2="606.02" y2="311.94" stroke="#222222" stroke-width="1.0"/>
<line x1="598.59" y1="247.71" x2="606.02" y2="247.71" stroke="#222222" stroke-width="1.0"/>
<rect x="595.56" y="269.61" width="13.49" height="20.73" fill="#40923b" stroke="#222222" stroke-width="1.0"/>
<line x1="595.56" y1="280.12" x2="609.05" y2="280.12" stroke="#111111" stroke-width="1.4"/>
<path d="M602.3 234.96L603.7 237.2L602.3 239.44L600.9 237.2Z" fill="#262626"/>
<path d="M602.3 227.07L603.7 229.31L602.3 231.55L600.9 229.31Z" fill="#262626"/>
<line x1="629.85" y1="321.28" x2="629.85" y2="338.22" stroke="#222222" stroke-width="1.0"/>
<line x1="629.85" y1="308.73" x2="629.85" y2="289.17" stroke="#222222" stroke-width="1.0"/>
<line x1="626.13" y1="338.22" x2="633.56" y2="338.22" stroke="#222222" stroke-width="1.0"/>
<line x1="626.13" y1="289.17" x2="633.56" y2="289.17" stroke="#222222" stroke-width="1.0"/>
<rect x="623.1" y="308.73" width="13.49" height="12.55" fill="#aeccdb" stroke="#222222" stroke-width="1.0"/>
<line x1="623.1" y1="315.45" x2="636.59" y2="315.45" stroke="#111111" stroke-width="1.4"/>
<path d="M629.85 284.01L631.25 286.25L629.85 288.49L628.45 286.25Z" fill="#262626"/>
<path d="M629.85 281.96L631.25 284.2L629.85 286.44L628.45 284.2Z" fill="#262626"/>
<path d="M629.85 279.63L631.25 281.87L629.85 284.11L628.45 281.87Z" fill="#262626"/>
<path d="M629.85 277.58L631.25 279.82L629.85 282.06L628.45 279.82Z" fill="#262626"/>
<path d="M629.85 275.54L631.25 277.78L629.85 280.02L628.45 277.78Z" fill="#262626"/>
<path d="M629.85 273.21L631.25 275.45L629.85 277.69L628.45 275.45Z" fill="#262626"/>
<path d="M629.85 271.16L631.25 273.4L629.85 275.64L628.45 273.4Z" fill="#262626"/>
<path d="M629.85 251.31L631.25 253.55L629.85 255.79L628.45 253.55Z" fill="#262626"/>
<line x1="643.62" y1="323.33" x2="643.62" y2="338.22" stroke="#222222" stroke-width="1.0"/>
<line x1="643.62" y1="310.48" x2="643.62" y2="292.67" stroke="#222222" stroke-width="1.0"/>
<line x1="639.9" y1="338.22" x2="647.33" y2="338.22" stroke="#222222" stroke-width="1.0"/>
<line x1="639.9" y1="292.67" x2="647.33" y2="292.67" stroke="#222222" stroke-width="1.0"/>
<rect x="636.87" y="310.48" width="13.49" height="12.85" fill="#3274a1" stroke="#222222" stroke-width="1.0"/>
<line x1="636.87" y1="317.2" x2="650.36" y2="317.2" stroke="#111111" stroke-width="1.4"/>
<path d="M643.62 287.8L645.01 290.04L643.62 292.28L642.22 290.04Z" fill="#262626"/>
<path d="M643.62 285.47L645.01 287.71L643.62 289.95L642.22 287.71Z" fill="#262626"/>
<path d="M643.62 283.13L645.01 285.37L643.62 287.61L642.22 285.37Z" fill="#262626"/>
<path d="M643.62 281.09L645.01 283.33L643.62 285.57L642.22 283.33Z" fill="#262626"/>
<path d="M643.62 279.04L645.01 281.28L643.62 283.52L642.22 281.28Z" fill="#262626"/>
<path d="M643.62 275.54L645.01 277.78L643.62 280.02L642.22 277.78Z" fill="#262626"/>
<path d="M643.62 260.36L645.01 262.6L643.62 264.84L642.22 262.6Z" fill="#262626"/>
<line x1="657.38" y1="298.8" x2="657.38" y2="310.48" stroke="#222222" stroke-width="1.0"/>
<line x1="657.38" y1="287.12" x2="657.38" y2="271.65" stroke="#222222" stroke-width="1.0"/>
<line x1="653.67" y1="310.48" x2="661.1" y2="310.48" stroke="#222222" stroke-width="1.0"/>
<line x1="653.67" y1="271.65" x2="661.1" y2="271.65" stroke="#222222" stroke-width="1.0"/>
<rect x="650.64" y="287.12" width="13.49" height="11.68" fill="#b3d495" stroke="#222222" stroke-width="1.0"/>
<line x1="650.64" y1="292.38" x2="664.13" y2="292.38" stroke="#111111" stroke-width="1.4"/>
<path d="M657.38 264.45L658.78 266.69L657.38 268.93L655.99 266.69Z" fill="#262626"/>
<path d="M657.38 262.11L658.78 264.35L657.38 266.59L655.99 264.35Z" fill="#262626"/>
<path d="M657.38 259.77L658.78 262.01L657.38 264.25L655.99 262.01Z" fill="#262626"/>
<path d="M657.38 256.85L658.78 259.09L657.38 261.33L655.99 259.09Z" fill="#262626"/>
<path d="M657.38 237.29L658.78 239.53L657.38 241.77L655.99 239.53Z" fill="#262626"/>
<line x1="671.15" y1="301.14" x2="671.15" y2="310.48" stroke="#222222" stroke-width="1.0"/>
<line x1="671.15" y1="289.46" x2="671.15" y2="277.78" stroke="#222222" stroke-width="1.0"/>
<line x1="667.44" y1="310.48" x2="674.87" y2="310.48" stroke="#222222" stroke-width="1.0"/>
<line x1="667.44" y1="277.78" x2="674.87" y2="277.78" stroke="#222222" stroke-width="1.0"/>
<rect x="664.41" y="289.46" width="13.49" height="11.68" fill="#40923b" stroke="#222222" stroke-width="1.0"/>
<line x1="664.41" y1="295.59" x2="677.9" y2="295.59" stroke="#111111" stroke-width="1.4"/>
<path d="M671.15 269.41L672.55 271.65L671.15 273.89L669.75 271.65Z" fill="#262626"/>
<path d="M671.15 266.49L672.55 268.73L671.15 270.97L669.75 268.73Z" fill="#262626"/>
<path d="M671.15 264.15L672.55 266.39L671.15 268.63L669.75 266.39Z" fill="#262626"/>
<path d="M671.15 259.77L672.55 262.01L671.15 264.25L669.75 262.01Z" fill="#262626"/>
<path d="M671.15 245.18L672.55 247.42L671.15 249.66L669.75 247.42Z" fill="#262626"/>
<line x1="203.2" y1="308.61" x2="684.6" y2="308.61" stroke="#ff2a2a" stroke-width="1.0" stroke-opacity="0.85"/>
<line x1="34.65" y1="483.5" x2="90.05" y2="483.5" stroke="#b8b8b8" stroke-width="0.9"/>
<line x1="34.65" y1="459.5" x2="90.05" y2="459.5" stroke="#b8b8b8" stroke-width="0.9"/>
<line x1="34.65" y1="435.5" x2="90.05" y2="435.5" stroke="#b8b8b8" stroke-width="0.9"/>
<line x1="34.65" y1="411.5" x2="90.05" y2="411.5" stroke="#b8b8b8" stroke-width="0.9"/>
<line x1="34.65" y1="387.5" x2="90.05" y2="387.5" stroke="#b8b8b8" stroke-width="0.9"/>
<line x1="34.65" y1="363.5" x2="90.05" y2="363.5" stroke="#b8b8b8" stroke-width="0.9"/>
<line x1="134.2" y1="469.3" x2="684.6" y2="469.3" stroke="#b8b8b8" stroke-width="0.9"/>
<line x1="134.2" y1="430.8" x2="684.6" y2="430.8" stroke="#b8b8b8" stroke-width="0.9"/>
<line x1="134.2" y1="392.3" x2="684.6" y2="392.3" stroke="#b8b8b8" stroke-width="0.9"/>
<line x1="134.2" y1="353.8" x2="684.6" y2="353.8" stroke="#b8b8b8" stroke-width="0.9"/>
<line x1="48.5" y1="405.43" x2="48.5" y2="419.24" stroke="#1c1c1c" stroke-width="1.05"/>
<line x1="48.5" y1="391.02" x2="48.5" y2="371.32" stroke="#1c1c1c" stroke-width="1.05"/>
<line x1="42.63" y1="419.24" x2="54.37" y2="419.24" stroke="#1c1c1c" stroke-width="1.05"/>
<line x1="42.63" y1="371.32" x2="54.37" y2="371.32" stroke="#1c1c1c" stroke-width="1.05"/>
<rect x="37.42" y="391.02" width="22.16" height="14.41" fill="#d3d3d3" stroke="#1c1c1c" stroke-width="1.05"/>
<line x1="37.42" y1="397.72" x2="59.58" y2="397.72" stroke="#111111" stroke-width="1.65"/>
<line x1="76.2" y1="407.26" x2="76.2" y2="418.42" stroke="#1c1c1c" stroke-width="1.05"/>
<line x1="76.2" y1="398.73" x2="76.2" y2="385.94" stroke="#1c1c1c" stroke-width="1.05"/>
<line x1="70.33" y1="418.42" x2="82.07" y2="418.42" stroke="#1c1c1c" stroke-width="1.05"/>
<line x1="70.33" y1="385.94" x2="82.07" y2="385.94" stroke="#1c1c1c" stroke-width="1.05"/>
<rect x="65.12" y="398.73" width="22.16" height="8.53" fill="#d3d3d3" stroke="#1c1c1c" stroke-width="1.05"/>
<line x1="65.12" y1="402.59" x2="87.28" y2="402.59" stroke="#111111" stroke-width="1.65"/>
<path d="M76.2 382.08L77.6 384.32L76.2 386.56L74.8 384.32Z" fill="#262626"/>
<line x1="34.65" y1="469.99" x2="90.05" y2="469.99" stroke="#ff2a2a" stroke-width="1.0" stroke-opacity="0.85"/>
<line x1="134.2" y1="447.42" x2="203.2" y2="447.42" stroke="#ff2a2a" stroke-width="1.0" stroke-opacity="0.85"/>
<line x1="145.7" y1="450.53" x2="145.7" y2="458.12" stroke="#1c1c1c" stroke-width="1.05"/>
<line x1="145.7" y1="443.75" x2="145.7" y2="434.99" stroke="#1c1c1c" stroke-width="1.05"/>
<line x1="140.82" y1="458.12" x2="150.58" y2="458.12" stroke="#1c1c1c" stroke-width="1.05"/>
<line x1="140.82" y1="434.99" x2="150.58" y2="434.99" stroke="#1c1c1c" stroke-width="1.05"/>
<rect x="136.5" y="443.75" width="18.4" height="6.77" fill="#d3d3d3" stroke="#1c1c1c" stroke-width="1.05"/>
<line x1="136.5" y1="447.37" x2="154.9" y2="447.37" stroke="#111111" stroke-width="1.5"/>
<line x1="168.7" y1="485.56" x2="168.7" y2="490.58" stroke="#1c1c1c" stroke-width="1.05"/>
<line x1="168.7" y1="479.14" x2="168.7" y2="470.03" stroke="#1c1c1c" stroke-width="1.05"/>
<line x1="163.82" y1="490.58" x2="173.58" y2="490.58" stroke="#1c1c1c" stroke-width="1.05"/>
<line x1="163.82" y1="470.03" x2="173.58" y2="470.03" stroke="#1c1c1c" stroke-width="1.05"/>
<rect x="159.5" y="479.14" width="18.4" height="6.42" fill="#d3d3d3" stroke="#1c1c1c" stroke-width="1.05"/>
<line x1="159.5" y1="481.82" x2="177.9" y2="481.82" stroke="#111111" stroke-width="1.5"/>
<line x1="191.7" y1="475.28" x2="191.7" y2="482.06" stroke="#1c1c1c" stroke-width="1.05"/>
<line x1="191.7" y1="470.38" x2="191.7" y2="463.37" stroke="#1c1c1c" stroke-width="1.05"/>
<line x1="186.82" y1="482.06" x2="196.58" y2="482.06" stroke="#1c1c1c" stroke-width="1.05"/>
<line x1="186.82" y1="463.37" x2="196.58" y2="463.37" stroke="#1c1c1c" stroke-width="1.05"/>
<rect x="182.5" y="470.38" width="18.4" height="4.91" fill="#d3d3d3" stroke="#1c1c1c" stroke-width="1.05"/>
<line x1="182.5" y1="472.72" x2="200.9" y2="472.72" stroke="#111111" stroke-width="1.5"/>
<path d="M191.7 459.96L193.1 462.2L191.7 464.44L190.3 462.2Z" fill="#262626"/>
<path d="M191.7 482.15L193.1 484.39L191.7 486.63L190.3 484.39Z" fill="#262626"/>
<line x1="216.75" y1="422.42" x2="216.75" y2="460.96" stroke="#222222" stroke-width="1.0"/>
<line x1="216.75" y1="396.5" x2="216.75" y2="361.69" stroke="#222222" stroke-width="1.0"/>
<line x1="213.03" y1="460.96" x2="220.46" y2="460.96" stroke="#222222" stroke-width="1.0"/>
<line x1="213.03" y1="361.69" x2="220.46" y2="361.69" stroke="#222222" stroke-width="1.0"/>
<rect x="210" y="396.5" width="13.49" height="25.93" fill="#aeccdb" stroke="#222222" stroke-width="1.0"/>
<line x1="210" y1="408.41" x2="223.49" y2="408.41" stroke="#111111" stroke-width="1.4"/>
<line x1="230.52" y1="426.86" x2="230.52" y2="453.49" stroke="#222222" stroke-width="1.0"/>
<line x1="230.52" y1="400.23" x2="230.52" y2="364.26" stroke="#222222" stroke-width="1.0"/>
<line x1="226.8" y1="453.49" x2="234.23" y2="453.49" stroke="#222222" stroke-width="1.0"/>
<line x1="226.8" y1="364.26" x2="234.23" y2="364.26" stroke="#222222" stroke-width="1.0"/>
<rect x="223.77" y="400.23" width="13.49" height="26.63" fill="#3274a1" stroke="#222222" stroke-width="1.0"/>
<line x1="223.77" y1="411.68" x2="237.26" y2="411.68" stroke="#111111" stroke-width="1.4"/>
<path d="M230.52 468.07L231.92 470.31L230.52 472.55L229.12 470.31Z" fill="#262626"/>
<line x1="244.28" y1="405.61" x2="244.28" y2="423.59" stroke="#222222" stroke-width="1.0"/>
<line x1="244.28" y1="388.79" x2="244.28" y2="364.26" stroke="#222222" stroke-width="1.0"/>
<line x1="240.57" y1="423.59" x2="248" y2="423.59" stroke="#222222" stroke-width="1.0"/>
<line x1="240.57" y1="364.26" x2="248" y2="364.26" stroke="#222222" stroke-width="1.0"/>
<rect x="237.54" y="388.79" width="13.49" height="16.82" fill="#b3d495" stroke="#222222" stroke-width="1.0"/>
<line x1="237.54" y1="397.2" x2="251.03" y2="397.2" stroke="#111111" stroke-width="1.4"/>
<path d="M244.28 358.29L245.69 360.53L244.28 362.77L242.88 360.53Z" fill="#262626"/>
<line x1="258.06" y1="409.34" x2="258.06" y2="428.26" stroke="#222222" stroke-width="1.0"/>
<line x1="258.06" y1="391.12" x2="258.06" y2="366.6" stroke="#222222" stroke-width="1.0"/>
<line x1="254.34" y1="428.26" x2="261.77" y2="428.26" stroke="#222222" stroke-width="1.0"/>
<line x1="254.34" y1="366.6" x2="261.77" y2="366.6" stroke="#222222" stroke-width="1.0"/>
<rect x="251.31" y="391.12" width="13.49" height="18.22" fill="#40923b" stroke="#222222" stroke-width="1.0"/>
<line x1="251.31" y1="401.64" x2="264.8" y2="401.64" stroke="#111111" stroke-width="1.4"/>
<line x1="285.6" y1="454.19" x2="285.6" y2="477.78" stroke="#222222" stroke-width="1.0"/>
<line x1="285.6" y1="427.33" x2="285.6" y2="391.59" stroke="#222222" stroke-width="1.0"/>
<line x1="281.88" y1="477.78" x2="289.31" y2="477.78" stroke="#222222" stroke-width="1.0"/>
<line x1="281.88" y1="391.59" x2="289.31" y2="391.59" stroke="#222222" stroke-width="1.0"/>
<rect x="278.85" y="427.33" width="13.49" height="26.86" fill="#aeccdb" stroke="#222222" stroke-width="1.0"/>
<line x1="278.85" y1="440.64" x2="292.34" y2="440.64" stroke="#111111" stroke-width="1.4"/>
<line x1="299.37" y1="458.16" x2="299.37" y2="490.86" stroke="#222222" stroke-width="1.0"/>
<line x1="299.37" y1="431.3" x2="299.37" y2="394.86" stroke="#222222" stroke-width="1.0"/>
<line x1="295.65" y1="490.86" x2="303.08" y2="490.86" stroke="#222222" stroke-width="1.0"/>
<line x1="295.65" y1="394.86" x2="303.08" y2="394.86" stroke="#222222" stroke-width="1.0"/>
<rect x="292.62" y="431.3" width="13.49" height="26.86" fill="#3274a1" stroke="#222222" stroke-width="1.0"/>
<line x1="292.62" y1="444.85" x2="306.11" y2="444.85" stroke="#111111" stroke-width="1.4"/>
<line x1="313.13" y1="420.09" x2="313.13" y2="433.4" stroke="#222222" stroke-width="1.0"/>
<line x1="313.13" y1="409.34" x2="313.13" y2="392.76" stroke="#222222" stroke-width="1.0"/>
<line x1="309.42" y1="433.4" x2="316.85" y2="433.4" stroke="#222222" stroke-width="1.0"/>
<line x1="309.42" y1="392.76" x2="316.85" y2="392.76" stroke="#222222" stroke-width="1.0"/>
<rect x="306.39" y="409.34" width="13.49" height="10.74" fill="#b3d495" stroke="#222222" stroke-width="1.0"/>
<line x1="306.39" y1="415.42" x2="319.88" y2="415.42" stroke="#111111" stroke-width="1.4"/>
<path d="M313.13 434.2L314.53 436.44L313.13 438.68L311.74 436.44Z" fill="#262626"/>
<path d="M313.13 389.35L314.53 391.59L313.13 393.83L311.74 391.59Z" fill="#262626"/>
<path d="M313.13 387.48L314.53 389.72L313.13 391.96L311.74 389.72Z" fill="#262626"/>
<path d="M313.13 385.85L314.53 388.09L313.13 390.33L311.74 388.09Z" fill="#262626"/>
<line x1="326.91" y1="426.86" x2="326.91" y2="445.08" stroke="#222222" stroke-width="1.0"/>
<line x1="326.91" y1="413.55" x2="326.91" y2="393.93" stroke="#222222" stroke-width="1.0"/>
<line x1="323.19" y1="445.08" x2="330.62" y2="445.08" stroke="#222222" stroke-width="1.0"/>
<line x1="323.19" y1="393.93" x2="330.62" y2="393.93" stroke="#222222" stroke-width="1.0"/>
<rect x="320.16" y="413.55" width="13.49" height="13.31" fill="#40923b" stroke="#222222" stroke-width="1.0"/>
<line x1="320.16" y1="422.19" x2="333.65" y2="422.19" stroke="#111111" stroke-width="1.4"/>
<path d="M326.91 390.52L328.31 392.76L326.91 395L325.51 392.76Z" fill="#262626"/>
<line x1="354.45" y1="428.73" x2="354.45" y2="455.12" stroke="#222222" stroke-width="1.0"/>
<line x1="354.45" y1="404.67" x2="354.45" y2="379.68" stroke="#222222" stroke-width="1.0"/>
<line x1="350.73" y1="455.12" x2="358.16" y2="455.12" stroke="#222222" stroke-width="1.0"/>
<line x1="350.73" y1="379.68" x2="358.16" y2="379.68" stroke="#222222" stroke-width="1.0"/>
<rect x="347.7" y="404.67" width="13.49" height="24.06" fill="#aeccdb" stroke="#222222" stroke-width="1.0"/>
<line x1="347.7" y1="417.05" x2="361.19" y2="417.05" stroke="#111111" stroke-width="1.4"/>
<line x1="368.22" y1="435.04" x2="368.22" y2="459.09" stroke="#222222" stroke-width="1.0"/>
<line x1="368.22" y1="408.18" x2="368.22" y2="380.38" stroke="#222222" stroke-width="1.0"/>
<line x1="364.5" y1="459.09" x2="371.93" y2="459.09" stroke="#222222" stroke-width="1.0"/>
<line x1="364.5" y1="380.38" x2="371.93" y2="380.38" stroke="#222222" stroke-width="1.0"/>
<rect x="361.47" y="408.18" width="13.49" height="26.86" fill="#3274a1" stroke="#222222" stroke-width="1.0"/>
<line x1="361.47" y1="420.32" x2="374.96" y2="420.32" stroke="#111111" stroke-width="1.4"/>
<line x1="381.99" y1="407.94" x2="381.99" y2="424.99" stroke="#222222" stroke-width="1.0"/>
<line x1="381.99" y1="394.39" x2="381.99" y2="378.28" stroke="#222222" stroke-width="1.0"/>
<line x1="378.27" y1="424.99" x2="385.7" y2="424.99" stroke="#222222" stroke-width="1.0"/>
<line x1="378.27" y1="378.28" x2="385.7" y2="378.28" stroke="#222222" stroke-width="1.0"/>
<rect x="375.24" y="394.39" width="13.49" height="13.55" fill="#b3d495" stroke="#222222" stroke-width="1.0"/>
<line x1="375.24" y1="401.64" x2="388.73" y2="401.64" stroke="#111111" stroke-width="1.4"/>
<path d="M381.99 368.1L383.38 370.34L381.99 372.58L380.59 370.34Z" fill="#262626"/>
<line x1="395.76" y1="413.31" x2="395.76" y2="431.07" stroke="#222222" stroke-width="1.0"/>
<line x1="395.76" y1="397.9" x2="395.76" y2="376.18" stroke="#222222" stroke-width="1.0"/>
<line x1="392.04" y1="431.07" x2="399.47" y2="431.07" stroke="#222222" stroke-width="1.0"/>
<line x1="392.04" y1="376.18" x2="399.47" y2="376.18" stroke="#222222" stroke-width="1.0"/>
<rect x="389.01" y="397.9" width="13.49" height="15.42" fill="#40923b" stroke="#222222" stroke-width="1.0"/>
<line x1="389.01" y1="405.37" x2="402.5" y2="405.37" stroke="#111111" stroke-width="1.4"/>
<line x1="423.3" y1="441.58" x2="423.3" y2="469.84" stroke="#222222" stroke-width="1.0"/>
<line x1="423.3" y1="412.38" x2="423.3" y2="385.52" stroke="#222222" stroke-width="1.0"/>
<line x1="419.58" y1="469.84" x2="427.01" y2="469.84" stroke="#222222" stroke-width="1.0"/>
<line x1="419.58" y1="385.52" x2="427.01" y2="385.52" stroke="#222222" stroke-width="1.0"/>
<rect x="416.55" y="412.38" width="13.49" height="29.2" fill="#aeccdb" stroke="#222222" stroke-width="1.0"/>
<line x1="416.55" y1="429.9" x2="430.04" y2="429.9" stroke="#111111" stroke-width="1.4"/>
<line x1="437.06" y1="445.31" x2="437.06" y2="476.38" stroke="#222222" stroke-width="1.0"/>
<line x1="437.06" y1="417.52" x2="437.06" y2="383.18" stroke="#222222" stroke-width="1.0"/>
<line x1="433.35" y1="476.38" x2="440.78" y2="476.38" stroke="#222222" stroke-width="1.0"/>
<line x1="433.35" y1="383.18" x2="440.78" y2="383.18" stroke="#222222" stroke-width="1.0"/>
<rect x="430.32" y="417.52" width="13.49" height="27.8" fill="#3274a1" stroke="#222222" stroke-width="1.0"/>
<line x1="430.32" y1="431.3" x2="443.81" y2="431.3" stroke="#111111" stroke-width="1.4"/>
<line x1="450.83" y1="414.25" x2="450.83" y2="429.2" stroke="#222222" stroke-width="1.0"/>
<line x1="450.83" y1="398.83" x2="450.83" y2="384.35" stroke="#222222" stroke-width="1.0"/>
<line x1="447.12" y1="429.2" x2="454.55" y2="429.2" stroke="#222222" stroke-width="1.0"/>
<line x1="447.12" y1="384.35" x2="454.55" y2="384.35" stroke="#222222" stroke-width="1.0"/>
<rect x="444.09" y="398.83" width="13.49" height="15.42" fill="#b3d495" stroke="#222222" stroke-width="1.0"/>
<line x1="444.09" y1="408.64" x2="457.58" y2="408.64" stroke="#111111" stroke-width="1.4"/>
<path d="M450.83 437.7L452.23 439.94L450.83 442.18L449.44 439.94Z" fill="#262626"/>
<line x1="464.61" y1="419.15" x2="464.61" y2="435.27" stroke="#222222" stroke-width="1.0"/>
<line x1="464.61" y1="404.2" x2="464.61" y2="388.79" stroke="#222222" stroke-width="1.0"/>
<line x1="460.89" y1="435.27" x2="468.32" y2="435.27" stroke="#222222" stroke-width="1.0"/>
<line x1="460.89" y1="388.79" x2="468.32" y2="388.79" stroke="#222222" stroke-width="1.0"/>
<rect x="457.86" y="404.2" width="13.49" height="14.95" fill="#40923b" stroke="#222222" stroke-width="1.0"/>
<line x1="457.86" y1="414.25" x2="471.35" y2="414.25" stroke="#111111" stroke-width="1.4"/>
<path d="M464.61 445.18L466 447.42L464.61 449.66L463.21 447.42Z" fill="#262626"/>
<line x1="492.14" y1="440.23" x2="492.14" y2="467.97" stroke="#222222" stroke-width="1.0"/>
<line x1="492.14" y1="412.79" x2="492.14" y2="376.58" stroke="#222222" stroke-width="1.0"/>
<line x1="488.43" y1="467.97" x2="495.86" y2="467.97" stroke="#222222" stroke-width="1.0"/>
<line x1="488.43" y1="376.58" x2="495.86" y2="376.58" stroke="#222222" stroke-width="1.0"/>
<rect x="485.4" y="412.79" width="13.49" height="27.45" fill="#aeccdb" stroke="#222222" stroke-width="1.0"/>
<line x1="485.4" y1="428.26" x2="498.89" y2="428.26" stroke="#111111" stroke-width="1.4"/>
<line x1="505.91" y1="444.91" x2="505.91" y2="468.26" stroke="#222222" stroke-width="1.0"/>
<line x1="505.91" y1="413.66" x2="505.91" y2="379.21" stroke="#222222" stroke-width="1.0"/>
<line x1="502.2" y1="468.26" x2="509.63" y2="468.26" stroke="#222222" stroke-width="1.0"/>
<line x1="502.2" y1="379.21" x2="509.63" y2="379.21" stroke="#222222" stroke-width="1.0"/>
<rect x="499.17" y="413.66" width="13.49" height="31.24" fill="#3274a1" stroke="#222222" stroke-width="1.0"/>
<line x1="499.17" y1="429.72" x2="512.66" y2="429.72" stroke="#111111" stroke-width="1.4"/>
<line x1="519.68" y1="413.08" x2="519.68" y2="431.77" stroke="#222222" stroke-width="1.0"/>
<line x1="519.68" y1="396.44" x2="519.68" y2="378.04" stroke="#222222" stroke-width="1.0"/>
<line x1="515.97" y1="431.77" x2="523.4" y2="431.77" stroke="#222222" stroke-width="1.0"/>
<line x1="515.97" y1="378.04" x2="523.4" y2="378.04" stroke="#222222" stroke-width="1.0"/>
<rect x="512.94" y="396.44" width="13.49" height="16.64" fill="#b3d495" stroke="#222222" stroke-width="1.0"/>
<line x1="512.94" y1="406.95" x2="526.43" y2="406.95" stroke="#111111" stroke-width="1.4"/>
<line x1="533.45" y1="419.8" x2="533.45" y2="437.02" stroke="#222222" stroke-width="1.0"/>
<line x1="533.45" y1="401.69" x2="533.45" y2="385.93" stroke="#222222" stroke-width="1.0"/>
<line x1="529.74" y1="437.02" x2="537.17" y2="437.02" stroke="#222222" stroke-width="1.0"/>
<line x1="529.74" y1="385.93" x2="537.17" y2="385.93" stroke="#222222" stroke-width="1.0"/>
<rect x="526.71" y="401.69" width="13.49" height="18.1" fill="#40923b" stroke="#222222" stroke-width="1.0"/>
<line x1="526.71" y1="412.2" x2="540.2" y2="412.2" stroke="#111111" stroke-width="1.4"/>
<line x1="561" y1="454.25" x2="561" y2="488.99" stroke="#222222" stroke-width="1.0"/>
<line x1="561" y1="419.5" x2="561" y2="374.25" stroke="#222222" stroke-width="1.0"/>
<line x1="557.28" y1="488.99" x2="564.71" y2="488.99" stroke="#222222" stroke-width="1.0"/>
<line x1="557.28" y1="374.25" x2="564.71" y2="374.25" stroke="#222222" stroke-width="1.0"/>
<rect x="554.25" y="419.5" width="13.49" height="34.74" fill="#aeccdb" stroke="#222222" stroke-width="1.0"/>
<line x1="554.25" y1="435.27" x2="567.74" y2="435.27" stroke="#111111" stroke-width="1.4"/>
<line x1="574.76" y1="454.25" x2="574.76" y2="488.99" stroke="#222222" stroke-width="1.0"/>
<line x1="574.76" y1="419.5" x2="574.76" y2="374.25" stroke="#222222" stroke-width="1.0"/>
<line x1="571.05" y1="488.99" x2="578.48" y2="488.99" stroke="#222222" stroke-width="1.0"/>
<line x1="571.05" y1="374.25" x2="578.48" y2="374.25" stroke="#222222" stroke-width="1.0"/>
<rect x="568.02" y="419.5" width="13.49" height="34.74" fill="#3274a1" stroke="#222222" stroke-width="1.0"/>
<line x1="568.02" y1="435.27" x2="581.51" y2="435.27" stroke="#111111" stroke-width="1.4"/>
<line x1="588.53" y1="426.8" x2="588.53" y2="450.16" stroke="#222222" stroke-width="1.0"/>
<line x1="588.53" y1="410.16" x2="588.53" y2="390.31" stroke="#222222" stroke-width="1.0"/>
<line x1="584.82" y1="450.16" x2="592.25" y2="450.16" stroke="#222222" stroke-width="1.0"/>
<line x1="584.82" y1="390.31" x2="592.25" y2="390.31" stroke="#222222" stroke-width="1.0"/>
<rect x="581.79" y="410.16" width="13.49" height="16.64" fill="#b3d495" stroke="#222222" stroke-width="1.0"/>
<line x1="581.79" y1="418.63" x2="595.28" y2="418.63" stroke="#111111" stroke-width="1.4"/>
<path d="M588.53 378.14L589.93 380.38L588.53 382.62L587.13 380.38Z" fill="#262626"/>
<line x1="602.3" y1="426.8" x2="602.3" y2="450.16" stroke="#222222" stroke-width="1.0"/>
<line x1="602.3" y1="410.16" x2="602.3" y2="390.31" stroke="#222222" stroke-width="1.0"/>
<line x1="598.59" y1="450.16" x2="606.02" y2="450.16" stroke="#222222" stroke-width="1.0"/>
<line x1="598.59" y1="390.31" x2="606.02" y2="390.31" stroke="#222222" stroke-width="1.0"/>
<rect x="595.56" y="410.16" width="13.49" height="16.64" fill="#40923b" stroke="#222222" stroke-width="1.0"/>
<line x1="595.56" y1="418.63" x2="609.05" y2="418.63" stroke="#111111" stroke-width="1.4"/>
<path d="M602.3 378.14L603.7 380.38L602.3 382.62L600.9 380.38Z" fill="#262626"/>
<line x1="629.85" y1="453.96" x2="629.85" y2="479.65" stroke="#222222" stroke-width="1.0"/>
<line x1="629.85" y1="422.72" x2="629.85" y2="378.34" stroke="#222222" stroke-width="1.0"/>
<line x1="626.13" y1="479.65" x2="633.56" y2="479.65" stroke="#222222" stroke-width="1.0"/>
<line x1="626.13" y1="378.34" x2="633.56" y2="378.34" stroke="#222222" stroke-width="1.0"/>
<rect x="623.1" y="422.72" width="13.49" height="31.24" fill="#aeccdb" stroke="#222222" stroke-width="1.0"/>
<line x1="623.1" y1="439.36" x2="636.59" y2="439.36" stroke="#111111" stroke-width="1.4"/>
<line x1="643.62" y1="457.46" x2="643.62" y2="479.65" stroke="#222222" stroke-width="1.0"/>
<line x1="643.62" y1="425.05" x2="643.62" y2="379.21" stroke="#222222" stroke-width="1.0"/>
<line x1="639.9" y1="479.65" x2="647.33" y2="479.65" stroke="#222222" stroke-width="1.0"/>
<line x1="639.9" y1="379.21" x2="647.33" y2="379.21" stroke="#222222" stroke-width="1.0"/>
<rect x="636.87" y="425.05" width="13.49" height="32.41" fill="#3274a1" stroke="#222222" stroke-width="1.0"/>
<line x1="636.87" y1="442.28" x2="650.36" y2="442.28" stroke="#111111" stroke-width="1.4"/>
<line x1="657.38" y1="422.42" x2="657.38" y2="445.2" stroke="#222222" stroke-width="1.0"/>
<line x1="657.38" y1="404.32" x2="657.38" y2="377.17" stroke="#222222" stroke-width="1.0"/>
<line x1="653.67" y1="445.2" x2="661.1" y2="445.2" stroke="#222222" stroke-width="1.0"/>
<line x1="653.67" y1="377.17" x2="661.1" y2="377.17" stroke="#222222" stroke-width="1.0"/>
<rect x="650.64" y="404.32" width="13.49" height="18.1" fill="#b3d495" stroke="#222222" stroke-width="1.0"/>
<line x1="650.64" y1="413.66" x2="664.13" y2="413.66" stroke="#111111" stroke-width="1.4"/>
<path d="M657.38 373.76L658.78 376L657.38 378.24L655.99 376Z" fill="#262626"/>
<line x1="671.15" y1="425.34" x2="671.15" y2="445.2" stroke="#222222" stroke-width="1.0"/>
<line x1="671.15" y1="408.41" x2="671.15" y2="390.31" stroke="#222222" stroke-width="1.0"/>
<line x1="667.44" y1="445.2" x2="674.87" y2="445.2" stroke="#222222" stroke-width="1.0"/>
<line x1="667.44" y1="390.31" x2="674.87" y2="390.31" stroke="#222222" stroke-width="1.0"/>
<rect x="664.41" y="408.41" width="13.49" height="16.93" fill="#40923b" stroke="#222222" stroke-width="1.0"/>
<line x1="664.41" y1="418.04" x2="677.9" y2="418.04" stroke="#111111" stroke-width="1.4"/>
<path d="M671.15 378.72L672.55 380.96L671.15 383.2L669.75 380.96Z" fill="#262626"/>
<line x1="203.2" y1="447.42" x2="684.6" y2="447.42" stroke="#ff2a2a" stroke-width="1.0" stroke-opacity="0.85"/>
<line x1="34.65" y1="652.3" x2="90.05" y2="652.3" stroke="#b8b8b8" stroke-width="0.9"/>
<line x1="34.65" y1="628.3" x2="90.05" y2="628.3" stroke="#b8b8b8" stroke-width="0.9"/>
<line x1="34.65" y1="604.3" x2="90.05" y2="604.3" stroke="#b8b8b8" stroke-width="0.9"/>
<line x1="34.65" y1="580.3" x2="90.05" y2="580.3" stroke="#b8b8b8" stroke-width="0.9"/>
<line x1="34.65" y1="556.3" x2="90.05" y2="556.3" stroke="#b8b8b8" stroke-width="0.9"/>
<line x1="34.65" y1="532.3" x2="90.05" y2="532.3" stroke="#b8b8b8" stroke-width="0.9"/>
<line x1="134.2" y1="637.7" x2="684.6" y2="637.7" stroke="#b8b8b8" stroke-width="0.9"/>
<line x1="134.2" y1="599.2" x2="684.6" y2="599.2" stroke="#b8b8b8" stroke-width="0.9"/>
<line x1="134.2" y1="560.7" x2="684.6" y2="560.7" stroke="#b8b8b8" stroke-width="0.9"/>
<line x1="134.2" y1="522.2" x2="684.6" y2="522.2" stroke="#b8b8b8" stroke-width="0.9"/>
<line x1="48.5" y1="574.65" x2="48.5" y2="589.27" stroke="#1c1c1c" stroke-width="1.05"/>
<line x1="48.5" y1="560.64" x2="48.5" y2="546.63" stroke="#1c1c1c" stroke-width="1.05"/>
<line x1="42.63" y1="589.27" x2="54.37" y2="589.27" stroke="#1c1c1c" stroke-width="1.05"/>
<line x1="42.63" y1="546.63" x2="54.37" y2="546.63" stroke="#1c1c1c" stroke-width="1.05"/>
<rect x="37.42" y="560.64" width="22.16" height="14.01" fill="#d3d3d3" stroke="#1c1c1c" stroke-width="1.05"/>
<line x1="37.42" y1="566.33" x2="59.58" y2="566.33" stroke="#111111" stroke-width="1.65"/>
<path d="M48.5 537.69L49.9 539.93L48.5 542.17L47.1 539.93Z" fill="#262626"/>
<path d="M48.5 535.26L49.9 537.5L48.5 539.74L47.1 537.5Z" fill="#262626"/>
<path d="M48.5 533.23L49.9 535.47L48.5 537.71L47.1 535.47Z" fill="#262626"/>
<path d="M48.5 530.79L49.9 533.03L48.5 535.27L47.1 533.03Z" fill="#262626"/>
<line x1="76.2" y1="565.31" x2="76.2" y2="580.74" stroke="#1c1c1c" stroke-width="1.05"/>
<line x1="76.2" y1="553.33" x2="76.2" y2="541.15" stroke="#1c1c1c" stroke-width="1.05"/>
<line x1="70.33" y1="580.74" x2="82.07" y2="580.74" stroke="#1c1c1c" stroke-width="1.05"/>
<line x1="70.33" y1="541.15" x2="82.07" y2="541.15" stroke="#1c1c1c" stroke-width="1.05"/>
<rect x="65.12" y="553.33" width="22.16" height="11.98" fill="#d3d3d3" stroke="#1c1c1c" stroke-width="1.05"/>
<line x1="65.12" y1="558.41" x2="87.28" y2="558.41" stroke="#111111" stroke-width="1.65"/>
<path d="M76.2 532.62L77.6 534.86L76.2 537.1L74.8 534.86Z" fill="#262626"/>
<path d="M76.2 530.79L77.6 533.03L76.2 535.27L74.8 533.03Z" fill="#262626"/>
<path d="M76.2 528.76L77.6 531L76.2 533.24L74.8 531Z" fill="#262626"/>
<path d="M76.2 526.93L77.6 529.17L76.2 531.41L74.8 529.17Z" fill="#262626"/>
<line x1="34.65" y1="668.44" x2="90.05" y2="668.44" stroke="#ff2a2a" stroke-width="1.0" stroke-opacity="0.85"/>
<line x1="134.2" y1="664.23" x2="203.2" y2="664.23" stroke="#ff2a2a" stroke-width="1.0" stroke-opacity="0.85"/>
<line x1="145.7" y1="666.32" x2="145.7" y2="670.06" stroke="#1c1c1c" stroke-width="1.05"/>
<line x1="145.7" y1="661.53" x2="145.7" y2="658.61" stroke="#1c1c1c" stroke-width="1.05"/>
<line x1="140.82" y1="670.06" x2="150.58" y2="670.06" stroke="#1c1c1c" stroke-width="1.05"/>
<line x1="140.82" y1="658.61" x2="150.58" y2="658.61" stroke="#1c1c1c" stroke-width="1.05"/>
<rect x="136.5" y="661.53" width="18.4" height="4.79" fill="#d3d3d3" stroke="#1c1c1c" stroke-width="1.05"/>
<line x1="136.5" y1="663.99" x2="154.9" y2="663.99" stroke="#111111" stroke-width="1.5"/>
<line x1="168.7" y1="666.32" x2="168.7" y2="670.06" stroke="#1c1c1c" stroke-width="1.05"/>
<line x1="168.7" y1="661.53" x2="168.7" y2="658.61" stroke="#1c1c1c" stroke-width="1.05"/>
<line x1="163.82" y1="670.06" x2="173.58" y2="670.06" stroke="#1c1c1c" stroke-width="1.05"/>
<line x1="163.82" y1="658.61" x2="173.58" y2="658.61" stroke="#1c1c1c" stroke-width="1.05"/>
<rect x="159.5" y="661.53" width="18.4" height="4.79" fill="#d3d3d3" stroke="#1c1c1c" stroke-width="1.05"/>
<line x1="159.5" y1="663.99" x2="177.9" y2="663.99" stroke="#111111" stroke-width="1.5"/>
<line x1="182.5" y1="676" x2="200.9" y2="676" stroke="#1c1c1c" stroke-width="1.2"/>
<line x1="216.75" y1="652.09" x2="216.75" y2="669.14" stroke="#222222" stroke-width="1.0"/>
<line x1="216.75" y1="613.31" x2="216.75" y2="568.47" stroke="#222222" stroke-width="1.0"/>
<line x1="213.03" y1="669.14" x2="220.46" y2="669.14" stroke="#222222" stroke-width="1.0"/>
<line x1="213.03" y1="568.47" x2="220.46" y2="568.47" stroke="#222222" stroke-width="1.0"/>
<rect x="210" y="613.31" width="13.49" height="38.77" fill="#aeccdb" stroke="#222222" stroke-width="1.0"/>
<line x1="210" y1="637.37" x2="223.49" y2="637.37" stroke="#111111" stroke-width="1.4"/>
<line x1="230.52" y1="658.16" x2="230.52" y2="675.21" stroke="#222222" stroke-width="1.0"/>
<line x1="230.52" y1="623.36" x2="230.52" y2="579.91" stroke="#222222" stroke-width="1.0"/>
<line x1="226.8" y1="675.21" x2="234.23" y2="675.21" stroke="#222222" stroke-width="1.0"/>
<line x1="226.8" y1="579.91" x2="234.23" y2="579.91" stroke="#222222" stroke-width="1.0"/>
<rect x="223.77" y="623.36" width="13.49" height="34.8" fill="#3274a1" stroke="#222222" stroke-width="1.0"/>
<line x1="223.77" y1="645.78" x2="237.26" y2="645.78" stroke="#111111" stroke-width="1.4"/>
<line x1="244.28" y1="642.74" x2="244.28" y2="659.09" stroke="#222222" stroke-width="1.0"/>
<line x1="244.28" y1="607.24" x2="244.28" y2="566.6" stroke="#222222" stroke-width="1.0"/>
<line x1="240.57" y1="659.09" x2="248" y2="659.09" stroke="#222222" stroke-width="1.0"/>
<line x1="240.57" y1="566.6" x2="248" y2="566.6" stroke="#222222" stroke-width="1.0"/>
<rect x="237.54" y="607.24" width="13.49" height="35.5" fill="#b3d495" stroke="#222222" stroke-width="1.0"/>
<line x1="237.54" y1="629.66" x2="251.03" y2="629.66" stroke="#111111" stroke-width="1.4"/>
<line x1="258.06" y1="648.35" x2="258.06" y2="664.47" stroke="#222222" stroke-width="1.0"/>
<line x1="258.06" y1="615.42" x2="258.06" y2="580.85" stroke="#222222" stroke-width="1.0"/>
<line x1="254.34" y1="664.47" x2="261.77" y2="664.47" stroke="#222222" stroke-width="1.0"/>
<line x1="254.34" y1="580.85" x2="261.77" y2="580.85" stroke="#222222" stroke-width="1.0"/>
<rect x="251.31" y="615.42" width="13.49" height="32.93" fill="#40923b" stroke="#222222" stroke-width="1.0"/>
<line x1="251.31" y1="638.31" x2="264.8" y2="638.31" stroke="#111111" stroke-width="1.4"/>
<line x1="285.6" y1="642.51" x2="285.6" y2="660.26" stroke="#222222" stroke-width="1.0"/>
<line x1="285.6" y1="623.82" x2="285.6" y2="600.23" stroke="#222222" stroke-width="1.0"/>
<line x1="281.88" y1="660.26" x2="289.31" y2="660.26" stroke="#222222" stroke-width="1.0"/>
<line x1="281.88" y1="600.23" x2="289.31" y2="600.23" stroke="#222222" stroke-width="1.0"/>
<rect x="278.85" y="623.82" width="13.49" height="18.69" fill="#aeccdb" stroke="#222222" stroke-width="1.0"/>
<line x1="278.85" y1="634.8" x2="292.34" y2="634.8" stroke="#111111" stroke-width="1.4"/>
<line x1="299.37" y1="659.56" x2="299.37" y2="671.94" stroke="#222222" stroke-width="1.0"/>
<line x1="299.37" y1="645.31" x2="299.37" y2="630.6" stroke="#222222" stroke-width="1.0"/>
<line x1="295.65" y1="671.94" x2="303.08" y2="671.94" stroke="#222222" stroke-width="1.0"/>
<line x1="295.65" y1="630.6" x2="303.08" y2="630.6" stroke="#222222" stroke-width="1.0"/>
<rect x="292.62" y="645.31" width="13.49" height="14.25" fill="#3274a1" stroke="#222222" stroke-width="1.0"/>
<line x1="292.62" y1="653.72" x2="306.11" y2="653.72" stroke="#111111" stroke-width="1.4"/>
<line x1="313.13" y1="631.53" x2="313.13" y2="649.99" stroke="#222222" stroke-width="1.0"/>
<line x1="313.13" y1="614.25" x2="313.13" y2="595.56" stroke="#222222" stroke-width="1.0"/>
<line x1="309.42" y1="649.99" x2="316.85" y2="649.99" stroke="#222222" stroke-width="1.0"/>
<line x1="309.42" y1="595.56" x2="316.85" y2="595.56" stroke="#222222" stroke-width="1.0"/>
<rect x="306.39" y="614.25" width="13.49" height="17.28" fill="#b3d495" stroke="#222222" stroke-width="1.0"/>
<line x1="306.39" y1="624.99" x2="319.88" y2="624.99" stroke="#111111" stroke-width="1.4"/>
<line x1="326.91" y1="649.99" x2="326.91" y2="662.6" stroke="#222222" stroke-width="1.0"/>
<line x1="326.91" y1="636.2" x2="326.91" y2="621.49" stroke="#222222" stroke-width="1.0"/>
<line x1="323.19" y1="662.6" x2="330.62" y2="662.6" stroke="#222222" stroke-width="1.0"/>
<line x1="323.19" y1="621.49" x2="330.62" y2="621.49" stroke="#222222" stroke-width="1.0"/>
<rect x="320.16" y="636.2" width="13.49" height="13.78" fill="#40923b" stroke="#222222" stroke-width="1.0"/>
<line x1="320.16" y1="643.68" x2="333.65" y2="643.68" stroke="#111111" stroke-width="1.4"/>
<line x1="354.45" y1="633.87" x2="354.45" y2="665.87" stroke="#222222" stroke-width="1.0"/>
<line x1="354.45" y1="609.58" x2="354.45" y2="584.12" stroke="#222222" stroke-width="1.0"/>
<line x1="350.73" y1="665.87" x2="358.16" y2="665.87" stroke="#222222" stroke-width="1.0"/>
<line x1="350.73" y1="584.12" x2="358.16" y2="584.12" stroke="#222222" stroke-width="1.0"/>
<rect x="347.7" y="609.58" width="13.49" height="24.29" fill="#aeccdb" stroke="#222222" stroke-width="1.0"/>
<line x1="347.7" y1="623.12" x2="361.19" y2="623.12" stroke="#111111" stroke-width="1.4"/>
<path d="M354.45 569.96L355.85 572.2L354.45 574.44L353.05 572.2Z" fill="#262626"/>
<line x1="368.22" y1="641.34" x2="368.22" y2="667.97" stroke="#222222" stroke-width="1.0"/>
<line x1="368.22" y1="618.45" x2="368.22" y2="587.15" stroke="#222222" stroke-width="1.0"/>
<line x1="364.5" y1="667.97" x2="371.93" y2="667.97" stroke="#222222" stroke-width="1.0"/>
<line x1="364.5" y1="587.15" x2="371.93" y2="587.15" stroke="#222222" stroke-width="1.0"/>
<rect x="361.47" y="618.45" width="13.49" height="22.89" fill="#3274a1" stroke="#222222" stroke-width="1.0"/>
<line x1="361.47" y1="630.6" x2="374.96" y2="630.6" stroke="#111111" stroke-width="1.4"/>
<path d="M368.22 573L369.62 575.24L368.22 577.48L366.82 575.24Z" fill="#262626"/>
<line x1="381.99" y1="628.03" x2="381.99" y2="656.76" stroke="#222222" stroke-width="1.0"/>
<line x1="381.99" y1="605.37" x2="381.99" y2="573.37" stroke="#222222" stroke-width="1.0"/>
<line x1="378.27" y1="656.76" x2="385.7" y2="656.76" stroke="#222222" stroke-width="1.0"/>
<line x1="378.27" y1="573.37" x2="385.7" y2="573.37" stroke="#222222" stroke-width="1.0"/>
<rect x="375.24" y="605.37" width="13.49" height="22.66" fill="#b3d495" stroke="#222222" stroke-width="1.0"/>
<line x1="375.24" y1="617.28" x2="388.73" y2="617.28" stroke="#111111" stroke-width="1.4"/>
<line x1="395.76" y1="635.5" x2="395.76" y2="662.6" stroke="#222222" stroke-width="1.0"/>
<line x1="395.76" y1="612.38" x2="395.76" y2="587.85" stroke="#222222" stroke-width="1.0"/>
<line x1="392.04" y1="662.6" x2="399.47" y2="662.6" stroke="#222222" stroke-width="1.0"/>
<line x1="392.04" y1="587.85" x2="399.47" y2="587.85" stroke="#222222" stroke-width="1.0"/>
<rect x="389.01" y="612.38" width="13.49" height="23.12" fill="#40923b" stroke="#222222" stroke-width="1.0"/>
<line x1="389.01" y1="626.63" x2="402.5" y2="626.63" stroke="#111111" stroke-width="1.4"/>
<path d="M395.76 574.17L397.16 576.41L395.76 578.65L394.36 576.41Z" fill="#262626"/>
<line x1="423.3" y1="648.82" x2="423.3" y2="671.01" stroke="#222222" stroke-width="1.0"/>
<line x1="423.3" y1="623.12" x2="423.3" y2="590.42" stroke="#222222" stroke-width="1.0"/>
<line x1="419.58" y1="671.01" x2="427.01" y2="671.01" stroke="#222222" stroke-width="1.0"/>
<line x1="419.58" y1="590.42" x2="427.01" y2="590.42" stroke="#222222" stroke-width="1.0"/>
<rect x="416.55" y="623.12" width="13.49" height="25.69" fill="#aeccdb" stroke="#222222" stroke-width="1.0"/>
<line x1="416.55" y1="639.71" x2="430.04" y2="639.71" stroke="#111111" stroke-width="1.4"/>
<path d="M423.3 574.87L424.69 577.11L423.3 579.35L421.9 577.11Z" fill="#262626"/>
<line x1="437.06" y1="654.19" x2="437.06" y2="675.68" stroke="#222222" stroke-width="1.0"/>
<line x1="437.06" y1="628.26" x2="437.06" y2="588.79" stroke="#222222" stroke-width="1.0"/>
<line x1="433.35" y1="675.68" x2="440.78" y2="675.68" stroke="#222222" stroke-width="1.0"/>
<line x1="433.35" y1="588.79" x2="440.78" y2="588.79" stroke="#222222" stroke-width="1.0"/>
<rect x="430.32" y="628.26" width="13.49" height="25.93" fill="#3274a1" stroke="#222222" stroke-width="1.0"/>
<line x1="430.32" y1="644.38" x2="443.81" y2="644.38" stroke="#111111" stroke-width="1.4"/>
<line x1="450.83" y1="640.18" x2="450.83" y2="661.66" stroke="#222222" stroke-width="1.0"/>
<line x1="450.83" y1="617.52" x2="450.83" y2="591.36" stroke="#222222" stroke-width="1.0"/>
<line x1="447.12" y1="661.66" x2="454.55" y2="661.66" stroke="#222222" stroke-width="1.0"/>
<line x1="447.12" y1="591.36" x2="454.55" y2="591.36" stroke="#222222" stroke-width="1.0"/>
<rect x="444.09" y="617.52" width="13.49" height="22.66" fill="#b3d495" stroke="#222222" stroke-width="1.0"/>
<line x1="444.09" y1="631.77" x2="457.58" y2="631.77" stroke="#111111" stroke-width="1.4"/>
<path d="M450.83 572.53L452.23 574.77L450.83 577.01L449.44 574.77Z" fill="#262626"/>
<line x1="464.61" y1="645.31" x2="464.61" y2="665.87" stroke="#222222" stroke-width="1.0"/>
<line x1="464.61" y1="624.53" x2="464.61" y2="597.43" stroke="#222222" stroke-width="1.0"/>
<line x1="460.89" y1="665.87" x2="468.32" y2="665.87" stroke="#222222" stroke-width="1.0"/>
<line x1="460.89" y1="597.43" x2="468.32" y2="597.43" stroke="#222222" stroke-width="1.0"/>
<rect x="457.86" y="624.53" width="13.49" height="20.79" fill="#40923b" stroke="#222222" stroke-width="1.0"/>
<line x1="457.86" y1="636.44" x2="471.35" y2="636.44" stroke="#111111" stroke-width="1.4"/>
<path d="M464.61 584.68L466 586.92L464.61 589.16L463.21 586.92Z" fill="#262626"/>
<line x1="492.14" y1="649.4" x2="492.14" y2="673.93" stroke="#222222" stroke-width="1.0"/>
<line x1="492.14" y1="624.29" x2="492.14" y2="592.47" stroke="#222222" stroke-width="1.0"/>
<line x1="488.43" y1="673.93" x2="495.86" y2="673.93" stroke="#222222" stroke-width="1.0"/>
<line x1="488.43" y1="592.47" x2="495.86" y2="592.47" stroke="#222222" stroke-width="1.0"/>
<rect x="485.4" y="624.29" width="13.49" height="25.11" fill="#aeccdb" stroke="#222222" stroke-width="1.0"/>
<line x1="485.4" y1="641.81" x2="498.89" y2="641.81" stroke="#111111" stroke-width="1.4"/>
<path d="M492.14 583.51L493.54 585.75L492.14 587.99L490.75 585.75Z" fill="#262626"/>
<path d="M492.14 579.42L493.54 581.66L492.14 583.9L490.75 581.66Z" fill="#262626"/>
<line x1="505.91" y1="655.24" x2="505.91" y2="675.68" stroke="#222222" stroke-width="1.0"/>
<line x1="505.91" y1="630.72" x2="505.91" y2="595.39" stroke="#222222" stroke-width="1.0"/>
<line x1="502.2" y1="675.68" x2="509.63" y2="675.68" stroke="#222222" stroke-width="1.0"/>
<line x1="502.2" y1="595.39" x2="509.63" y2="595.39" stroke="#222222" stroke-width="1.0"/>
<rect x="499.17" y="630.72" width="13.49" height="24.53" fill="#3274a1" stroke="#222222" stroke-width="1.0"/>
<line x1="499.17" y1="645.31" x2="512.66" y2="645.31" stroke="#111111" stroke-width="1.4"/>
<path d="M505.91 582.64L507.31 584.88L505.91 587.12L504.51 584.88Z" fill="#262626"/>
<line x1="519.68" y1="642.1" x2="519.68" y2="658.16" stroke="#222222" stroke-width="1.0"/>
<line x1="519.68" y1="616.12" x2="519.68" y2="584.29" stroke="#222222" stroke-width="1.0"/>
<line x1="515.97" y1="658.16" x2="523.4" y2="658.16" stroke="#222222" stroke-width="1.0"/>
<line x1="515.97" y1="584.29" x2="523.4" y2="584.29" stroke="#222222" stroke-width="1.0"/>
<rect x="512.94" y="616.12" width="13.49" height="25.99" fill="#b3d495" stroke="#222222" stroke-width="1.0"/>
<line x1="512.94" y1="634.22" x2="526.43" y2="634.22" stroke="#111111" stroke-width="1.4"/>
<line x1="533.45" y1="646.19" x2="533.45" y2="665.46" stroke="#222222" stroke-width="1.0"/>
<line x1="533.45" y1="624.58" x2="533.45" y2="597.43" stroke="#222222" stroke-width="1.0"/>
<line x1="529.74" y1="665.46" x2="537.17" y2="665.46" stroke="#222222" stroke-width="1.0"/>
<line x1="529.74" y1="597.43" x2="537.17" y2="597.43" stroke="#222222" stroke-width="1.0"/>
<rect x="526.71" y="624.58" width="13.49" height="21.61" fill="#40923b" stroke="#222222" stroke-width="1.0"/>
<line x1="526.71" y1="639.77" x2="540.2" y2="639.77" stroke="#111111" stroke-width="1.4"/>
<path d="M533.45 584.1L534.85 586.34L533.45 588.58L532.05 586.34Z" fill="#262626"/>
<line x1="561" y1="659.33" x2="561" y2="676.26" stroke="#222222" stroke-width="1.0"/>
<line x1="561" y1="633.34" x2="561" y2="595.97" stroke="#222222" stroke-width="1.0"/>
<line x1="557.28" y1="676.26" x2="564.71" y2="676.26" stroke="#222222" stroke-width="1.0"/>
<line x1="557.28" y1="595.97" x2="564.71" y2="595.97" stroke="#222222" stroke-width="1.0"/>
<rect x="554.25" y="633.34" width="13.49" height="25.99" fill="#aeccdb" stroke="#222222" stroke-width="1.0"/>
<line x1="554.25" y1="646.19" x2="567.74" y2="646.19" stroke="#111111" stroke-width="1.4"/>
<line x1="574.76" y1="665.17" x2="574.76" y2="676.26" stroke="#222222" stroke-width="1.0"/>
<line x1="574.76" y1="638.6" x2="574.76" y2="608.23" stroke="#222222" stroke-width="1.0"/>
<line x1="571.05" y1="676.26" x2="578.48" y2="676.26" stroke="#222222" stroke-width="1.0"/>
<line x1="571.05" y1="608.23" x2="578.48" y2="608.23" stroke="#222222" stroke-width="1.0"/>
<rect x="568.02" y="638.6" width="13.49" height="26.57" fill="#3274a1" stroke="#222222" stroke-width="1.0"/>
<line x1="568.02" y1="649.99" x2="581.51" y2="649.99" stroke="#111111" stroke-width="1.4"/>
<path d="M574.76 593.73L576.16 595.97L574.76 598.21L573.37 595.97Z" fill="#262626"/>
<line x1="588.53" y1="649.99" x2="588.53" y2="663.12" stroke="#222222" stroke-width="1.0"/>
<line x1="588.53" y1="625.46" x2="588.53" y2="593.05" stroke="#222222" stroke-width="1.0"/>
<line x1="584.82" y1="663.12" x2="592.25" y2="663.12" stroke="#222222" stroke-width="1.0"/>
<line x1="584.82" y1="593.05" x2="592.25" y2="593.05" stroke="#222222" stroke-width="1.0"/>
<rect x="581.79" y="625.46" width="13.49" height="24.53" fill="#b3d495" stroke="#222222" stroke-width="1.0"/>
<line x1="581.79" y1="638.6" x2="595.28" y2="638.6" stroke="#111111" stroke-width="1.4"/>
<line x1="602.3" y1="654.66" x2="602.3" y2="665.75" stroke="#222222" stroke-width="1.0"/>
<line x1="602.3" y1="630.42" x2="602.3" y2="600.35" stroke="#222222" stroke-width="1.0"/>
<line x1="598.59" y1="665.75" x2="606.02" y2="665.75" stroke="#222222" stroke-width="1.0"/>
<line x1="598.59" y1="600.35" x2="606.02" y2="600.35" stroke="#222222" stroke-width="1.0"/>
<rect x="595.56" y="630.42" width="13.49" height="24.23" fill="#40923b" stroke="#222222" stroke-width="1.0"/>
<line x1="595.56" y1="641.23" x2="609.05" y2="641.23" stroke="#111111" stroke-width="1.4"/>
<path d="M602.3 590.52L603.7 592.76L602.3 595L600.9 592.76Z" fill="#262626"/>
<line x1="629.85" y1="669.84" x2="629.85" y2="676.26" stroke="#222222" stroke-width="1.0"/>
<line x1="629.85" y1="659.33" x2="629.85" y2="644.15" stroke="#222222" stroke-width="1.0"/>
<line x1="626.13" y1="676.26" x2="633.56" y2="676.26" stroke="#222222" stroke-width="1.0"/>
<line x1="626.13" y1="644.15" x2="633.56" y2="644.15" stroke="#222222" stroke-width="1.0"/>
<rect x="623.1" y="659.33" width="13.49" height="10.51" fill="#aeccdb" stroke="#222222" stroke-width="1.0"/>
<line x1="623.1" y1="663.71" x2="636.59" y2="663.71" stroke="#111111" stroke-width="1.4"/>
<path d="M629.85 639.86L631.25 642.1L629.85 644.34L628.45 642.1Z" fill="#262626"/>
<path d="M629.85 619.72L631.25 621.96L629.85 624.2L628.45 621.96Z" fill="#262626"/>
<line x1="643.62" y1="674.51" x2="643.62" y2="676.26" stroke="#222222" stroke-width="1.0"/>
<line x1="643.62" y1="662.54" x2="643.62" y2="648.23" stroke="#222222" stroke-width="1.0"/>
<line x1="639.9" y1="676.26" x2="647.33" y2="676.26" stroke="#222222" stroke-width="1.0"/>
<line x1="639.9" y1="648.23" x2="647.33" y2="648.23" stroke="#222222" stroke-width="1.0"/>
<rect x="636.87" y="662.54" width="13.49" height="11.97" fill="#3274a1" stroke="#222222" stroke-width="1.0"/>
<line x1="636.87" y1="668.96" x2="650.36" y2="668.96" stroke="#111111" stroke-width="1.4"/>
<path d="M643.62 623.51L645.01 625.75L643.62 627.99L642.22 625.75Z" fill="#262626"/>
<line x1="657.38" y1="659.04" x2="657.38" y2="667.21" stroke="#222222" stroke-width="1.0"/>
<line x1="657.38" y1="648.53" x2="657.38" y2="634.8" stroke="#222222" stroke-width="1.0"/>
<line x1="653.67" y1="667.21" x2="661.1" y2="667.21" stroke="#222222" stroke-width="1.0"/>
<line x1="653.67" y1="634.8" x2="661.1" y2="634.8" stroke="#222222" stroke-width="1.0"/>
<rect x="650.64" y="648.53" width="13.49" height="10.51" fill="#b3d495" stroke="#222222" stroke-width="1.0"/>
<line x1="650.64" y1="652.91" x2="664.13" y2="652.91" stroke="#111111" stroke-width="1.4"/>
<path d="M657.38 615.04L658.78 617.28L657.38 619.52L655.99 617.28Z" fill="#262626"/>
<line x1="671.15" y1="663.12" x2="671.15" y2="670.13" stroke="#222222" stroke-width="1.0"/>
<line x1="671.15" y1="651.74" x2="671.15" y2="636.26" stroke="#222222" stroke-width="1.0"/>
<line x1="667.44" y1="670.13" x2="674.87" y2="670.13" stroke="#222222" stroke-width="1.0"/>
<line x1="667.44" y1="636.26" x2="674.87" y2="636.26" stroke="#222222" stroke-width="1.0"/>
<rect x="664.41" y="651.74" width="13.49" height="11.39" fill="#40923b" stroke="#222222" stroke-width="1.0"/>
<line x1="664.41" y1="657.87" x2="677.9" y2="657.87" stroke="#111111" stroke-width="1.4"/>
<path d="M671.15 618.26L672.55 620.5L671.15 622.74L669.75 620.5Z" fill="#262626"/>
<line x1="203.2" y1="664.23" x2="684.6" y2="664.23" stroke="#ff2a2a" stroke-width="1.0" stroke-opacity="0.85"/>
<line x1="34.65" y1="820.4" x2="90.05" y2="820.4" stroke="#b8b8b8" stroke-width="0.9"/>
<line x1="34.65" y1="796.4" x2="90.05" y2="796.4" stroke="#b8b8b8" stroke-width="0.9"/>
<line x1="34.65" y1="772.4" x2="90.05" y2="772.4" stroke="#b8b8b8" stroke-width="0.9"/>
<line x1="34.65" y1="748.4" x2="90.05" y2="748.4" stroke="#b8b8b8" stroke-width="0.9"/>
<line x1="34.65" y1="724.4" x2="90.05" y2="724.4" stroke="#b8b8b8" stroke-width="0.9"/>
<line x1="34.65" y1="700.4" x2="90.05" y2="700.4" stroke="#b8b8b8" stroke-width="0.9"/>
<line x1="134.2" y1="806.1" x2="684.6" y2="806.1" stroke="#b8b8b8" stroke-width="0.9"/>
<line x1="134.2" y1="767.6" x2="684.6" y2="767.6" stroke="#b8b8b8" stroke-width="0.9"/>
<line x1="134.2" y1="729.1" x2="684.6" y2="729.1" stroke="#b8b8b8" stroke-width="0.9"/>
<line x1="134.2" y1="690.6" x2="684.6" y2="690.6" stroke="#b8b8b8" stroke-width="0.9"/>
<line x1="48.5" y1="744.27" x2="48.5" y2="755.24" stroke="#1c1c1c" stroke-width="1.05"/>
<line x1="48.5" y1="729.25" x2="48.5" y2="709.15" stroke="#1c1c1c" stroke-width="1.05"/>
<line x1="42.63" y1="755.24" x2="54.37" y2="755.24" stroke="#1c1c1c" stroke-width="1.05"/>
<line x1="42.63" y1="709.15" x2="54.37" y2="709.15" stroke="#1c1c1c" stroke-width="1.05"/>
<rect x="37.42" y="729.25" width="22.16" height="15.02" fill="#d3d3d3" stroke="#1c1c1c" stroke-width="1.05"/>
<line x1="37.42" y1="734.94" x2="59.58" y2="734.94" stroke="#111111" stroke-width="1.65"/>
<path d="M48.5 701.23L49.9 703.47L48.5 705.71L47.1 703.47Z" fill="#262626"/>
<path d="M48.5 696.56L49.9 698.8L48.5 701.04L47.1 698.8Z" fill="#262626"/>
<line x1="76.2" y1="753.21" x2="76.2" y2="765.39" stroke="#1c1c1c" stroke-width="1.05"/>
<line x1="76.2" y1="740.21" x2="76.2" y2="721.94" stroke="#1c1c1c" stroke-width="1.05"/>
<line x1="70.33" y1="765.39" x2="82.07" y2="765.39" stroke="#1c1c1c" stroke-width="1.05"/>
<line x1="70.33" y1="721.94" x2="82.07" y2="721.94" stroke="#1c1c1c" stroke-width="1.05"/>
<rect x="65.12" y="740.21" width="22.16" height="12.99" fill="#d3d3d3" stroke="#1c1c1c" stroke-width="1.05"/>
<line x1="65.12" y1="745.49" x2="87.28" y2="745.49" stroke="#111111" stroke-width="1.65"/>
<path d="M76.2 715.64L77.6 717.88L76.2 720.12L74.8 717.88Z" fill="#262626"/>
<path d="M76.2 707.72L77.6 709.96L76.2 712.2L74.8 709.96Z" fill="#262626"/>
<line x1="34.65" y1="833.8" x2="90.05" y2="833.8" stroke="#ff2a2a" stroke-width="1.0" stroke-opacity="0.85"/>
<line x1="134.2" y1="827.33" x2="203.2" y2="827.33" stroke="#ff2a2a" stroke-width="1.0" stroke-opacity="0.85"/>
<line x1="145.7" y1="829.53" x2="145.7" y2="833.62" stroke="#1c1c1c" stroke-width="1.05"/>
<line x1="145.7" y1="825.45" x2="145.7" y2="821.36" stroke="#1c1c1c" stroke-width="1.05"/>
<line x1="140.82" y1="833.62" x2="150.58" y2="833.62" stroke="#1c1c1c" stroke-width="1.05"/>
<line x1="140.82" y1="821.36" x2="150.58" y2="821.36" stroke="#1c1c1c" stroke-width="1.05"/>
<rect x="136.5" y="825.45" width="18.4" height="4.09" fill="#d3d3d3" stroke="#1c1c1c" stroke-width="1.05"/>
<line x1="136.5" y1="827.31" x2="154.9" y2="827.31" stroke="#111111" stroke-width="1.5"/>
<line x1="159.5" y1="844.1" x2="177.9" y2="844.1" stroke="#1c1c1c" stroke-width="1.2"/>
<line x1="191.7" y1="829.53" x2="191.7" y2="833.62" stroke="#1c1c1c" stroke-width="1.05"/>
<line x1="191.7" y1="825.45" x2="191.7" y2="821.36" stroke="#1c1c1c" stroke-width="1.05"/>
<line x1="186.82" y1="833.62" x2="196.58" y2="833.62" stroke="#1c1c1c" stroke-width="1.05"/>
<line x1="186.82" y1="821.36" x2="196.58" y2="821.36" stroke="#1c1c1c" stroke-width="1.05"/>
<rect x="182.5" y="825.45" width="18.4" height="4.09" fill="#d3d3d3" stroke="#1c1c1c" stroke-width="1.05"/>
<line x1="182.5" y1="827.31" x2="200.9" y2="827.31" stroke="#111111" stroke-width="1.5"/>
<line x1="216.75" y1="819.39" x2="216.75" y2="838.07" stroke="#222222" stroke-width="1.0"/>
<line x1="216.75" y1="795.33" x2="216.75" y2="759.12" stroke="#222222" stroke-width="1.0"/>
<line x1="213.03" y1="838.07" x2="220.46" y2="838.07" stroke="#222222" stroke-width="1.0"/>
<line x1="213.03" y1="759.12" x2="220.46" y2="759.12" stroke="#222222" stroke-width="1.0"/>
<rect x="210" y="795.33" width="13.49" height="24.06" fill="#aeccdb" stroke="#222222" stroke-width="1.0"/>
<line x1="210" y1="810.74" x2="223.49" y2="810.74" stroke="#111111" stroke-width="1.4"/>
<path d="M216.75 751.51L218.15 753.75L216.75 755.99L215.34 753.75Z" fill="#262626"/>
<path d="M216.75 750.34L218.15 752.58L216.75 754.82L215.34 752.58Z" fill="#262626"/>
<path d="M216.75 742.4L218.15 744.64L216.75 746.88L215.34 744.64Z" fill="#262626"/>
<path d="M216.75 738.2L218.15 740.44L216.75 742.68L215.34 740.44Z" fill="#262626"/>
<line x1="230.52" y1="823.12" x2="230.52" y2="839.71" stroke="#222222" stroke-width="1.0"/>
<line x1="230.52" y1="799.53" x2="230.52" y2="765.43" stroke="#222222" stroke-width="1.0"/>
<line x1="226.8" y1="839.71" x2="234.23" y2="839.71" stroke="#222222" stroke-width="1.0"/>
<line x1="226.8" y1="765.43" x2="234.23" y2="765.43" stroke="#222222" stroke-width="1.0"/>
<rect x="223.77" y="799.53" width="13.49" height="23.59" fill="#3274a1" stroke="#222222" stroke-width="1.0"/>
<line x1="223.77" y1="814.95" x2="237.26" y2="814.95" stroke="#111111" stroke-width="1.4"/>
<path d="M230.52 760.15L231.92 762.39L230.52 764.63L229.12 762.39Z" fill="#262626"/>
<path d="M230.52 749.64L231.92 751.88L230.52 754.12L229.12 751.88Z" fill="#262626"/>
<path d="M230.52 744.04L231.92 746.28L230.52 748.52L229.12 746.28Z" fill="#262626"/>
<line x1="244.28" y1="809.81" x2="244.28" y2="827.09" stroke="#222222" stroke-width="1.0"/>
<line x1="244.28" y1="787.15" x2="244.28" y2="753.05" stroke="#222222" stroke-width="1.0"/>
<line x1="240.57" y1="827.09" x2="248" y2="827.09" stroke="#222222" stroke-width="1.0"/>
<line x1="240.57" y1="753.05" x2="248" y2="753.05" stroke="#222222" stroke-width="1.0"/>
<rect x="237.54" y="787.15" width="13.49" height="22.66" fill="#b3d495" stroke="#222222" stroke-width="1.0"/>
<line x1="237.54" y1="803.04" x2="251.03" y2="803.04" stroke="#111111" stroke-width="1.4"/>
<path d="M244.28 749.18L245.69 751.42L244.28 753.66L242.88 751.42Z" fill="#262626"/>
<path d="M244.28 742.17L245.69 744.41L244.28 746.65L242.88 744.41Z" fill="#262626"/>
<path d="M244.28 740.53L245.69 742.77L244.28 745.01L242.88 742.77Z" fill="#262626"/>
<path d="M244.28 737.26L245.69 739.5L244.28 741.74L242.88 739.5Z" fill="#262626"/>
<line x1="258.06" y1="813.08" x2="258.06" y2="828.96" stroke="#222222" stroke-width="1.0"/>
<line x1="258.06" y1="790.42" x2="258.06" y2="757.96" stroke="#222222" stroke-width="1.0"/>
<line x1="254.34" y1="828.96" x2="261.77" y2="828.96" stroke="#222222" stroke-width="1.0"/>
<line x1="254.34" y1="757.96" x2="261.77" y2="757.96" stroke="#222222" stroke-width="1.0"/>
<rect x="251.31" y="790.42" width="13.49" height="22.66" fill="#40923b" stroke="#222222" stroke-width="1.0"/>
<line x1="251.31" y1="806.07" x2="264.8" y2="806.07" stroke="#111111" stroke-width="1.4"/>
<path d="M258.06 753.38L259.45 755.62L258.06 757.86L256.66 755.62Z" fill="#262626"/>
<path d="M258.06 749.18L259.45 751.42L258.06 753.66L256.66 751.42Z" fill="#262626"/>
<path d="M258.06 740.53L259.45 742.77L258.06 745.01L256.66 742.77Z" fill="#262626"/>
<line x1="285.6" y1="809.11" x2="285.6" y2="826.86" stroke="#222222" stroke-width="1.0"/>
<line x1="285.6" y1="788.32" x2="285.6" y2="765.43" stroke="#222222" stroke-width="1.0"/>
<line x1="281.88" y1="826.86" x2="289.31" y2="826.86" stroke="#222222" stroke-width="1.0"/>
<line x1="281.88" y1="765.43" x2="289.31" y2="765.43" stroke="#222222" stroke-width="1.0"/>
<rect x="278.85" y="788.32" width="13.49" height="20.79" fill="#aeccdb" stroke="#222222" stroke-width="1.0"/>
<line x1="278.85" y1="800" x2="292.34" y2="800" stroke="#111111" stroke-width="1.4"/>
<path d="M285.6 749.88L287 752.12L285.6 754.36L284.2 752.12Z" fill="#262626"/>
<line x1="299.37" y1="818.69" x2="299.37" y2="833.4" stroke="#222222" stroke-width="1.0"/>
<line x1="299.37" y1="799.53" x2="299.37" y2="772.44" stroke="#222222" stroke-width="1.0"/>
<line x1="295.65" y1="833.4" x2="303.08" y2="833.4" stroke="#222222" stroke-width="1.0"/>
<line x1="295.65" y1="772.44" x2="303.08" y2="772.44" stroke="#222222" stroke-width="1.0"/>
<rect x="292.62" y="799.53" width="13.49" height="19.15" fill="#3274a1" stroke="#222222" stroke-width="1.0"/>
<line x1="292.62" y1="811.21" x2="306.11" y2="811.21" stroke="#111111" stroke-width="1.4"/>
<path d="M299.37 752.45L300.76 754.69L299.37 756.93L297.97 754.69Z" fill="#262626"/>
<line x1="313.13" y1="800" x2="313.13" y2="819.15" stroke="#222222" stroke-width="1.0"/>
<line x1="313.13" y1="781.55" x2="313.13" y2="761.23" stroke="#222222" stroke-width="1.0"/>
<line x1="309.42" y1="819.15" x2="316.85" y2="819.15" stroke="#222222" stroke-width="1.0"/>
<line x1="309.42" y1="761.23" x2="316.85" y2="761.23" stroke="#222222" stroke-width="1.0"/>
<rect x="306.39" y="781.55" width="13.49" height="18.45" fill="#b3d495" stroke="#222222" stroke-width="1.0"/>
<line x1="306.39" y1="792.29" x2="319.88" y2="792.29" stroke="#111111" stroke-width="1.4"/>
<path d="M313.13 748.24L314.53 750.48L313.13 752.72L311.74 750.48Z" fill="#262626"/>
<line x1="326.91" y1="809.11" x2="326.91" y2="827.09" stroke="#222222" stroke-width="1.0"/>
<line x1="326.91" y1="791.12" x2="326.91" y2="768.23" stroke="#222222" stroke-width="1.0"/>
<line x1="323.19" y1="827.09" x2="330.62" y2="827.09" stroke="#222222" stroke-width="1.0"/>
<line x1="323.19" y1="768.23" x2="330.62" y2="768.23" stroke="#222222" stroke-width="1.0"/>
<rect x="320.16" y="791.12" width="13.49" height="17.99" fill="#40923b" stroke="#222222" stroke-width="1.0"/>
<line x1="320.16" y1="802.34" x2="333.65" y2="802.34" stroke="#111111" stroke-width="1.4"/>
<path d="M326.91 750.81L328.31 753.05L326.91 755.29L325.51 753.05Z" fill="#262626"/>
<line x1="354.45" y1="795.8" x2="354.45" y2="833.4" stroke="#222222" stroke-width="1.0"/>
<line x1="354.45" y1="761.93" x2="354.45" y2="730.16" stroke="#222222" stroke-width="1.0"/>
<line x1="350.73" y1="833.4" x2="358.16" y2="833.4" stroke="#222222" stroke-width="1.0"/>
<line x1="350.73" y1="730.16" x2="358.16" y2="730.16" stroke="#222222" stroke-width="1.0"/>
<rect x="347.7" y="761.93" width="13.49" height="33.87" fill="#aeccdb" stroke="#222222" stroke-width="1.0"/>
<line x1="347.7" y1="782.25" x2="361.19" y2="782.25" stroke="#111111" stroke-width="1.4"/>
<line x1="368.22" y1="807.24" x2="368.22" y2="835.04" stroke="#222222" stroke-width="1.0"/>
<line x1="368.22" y1="780.15" x2="368.22" y2="738.57" stroke="#222222" stroke-width="1.0"/>
<line x1="364.5" y1="835.04" x2="371.93" y2="835.04" stroke="#222222" stroke-width="1.0"/>
<line x1="364.5" y1="738.57" x2="371.93" y2="738.57" stroke="#222222" stroke-width="1.0"/>
<rect x="361.47" y="780.15" width="13.49" height="27.09" fill="#3274a1" stroke="#222222" stroke-width="1.0"/>
<line x1="361.47" y1="794.16" x2="374.96" y2="794.16" stroke="#111111" stroke-width="1.4"/>
<path d="M368.22 733.99L369.62 736.23L368.22 738.47L366.82 736.23Z" fill="#262626"/>
<path d="M368.22 731.66L369.62 733.9L368.22 736.14L366.82 733.9Z" fill="#262626"/>
<line x1="381.99" y1="786.22" x2="381.99" y2="828.03" stroke="#222222" stroke-width="1.0"/>
<line x1="381.99" y1="755.39" x2="381.99" y2="727.36" stroke="#222222" stroke-width="1.0"/>
<line x1="378.27" y1="828.03" x2="385.7" y2="828.03" stroke="#222222" stroke-width="1.0"/>
<line x1="378.27" y1="727.36" x2="385.7" y2="727.36" stroke="#222222" stroke-width="1.0"/>
<rect x="375.24" y="755.39" width="13.49" height="30.83" fill="#b3d495" stroke="#222222" stroke-width="1.0"/>
<line x1="375.24" y1="774.07" x2="388.73" y2="774.07" stroke="#111111" stroke-width="1.4"/>
<line x1="395.76" y1="797.43" x2="395.76" y2="829.9" stroke="#222222" stroke-width="1.0"/>
<line x1="395.76" y1="772.67" x2="395.76" y2="739.27" stroke="#222222" stroke-width="1.0"/>
<line x1="392.04" y1="829.9" x2="399.47" y2="829.9" stroke="#222222" stroke-width="1.0"/>
<line x1="392.04" y1="739.27" x2="399.47" y2="739.27" stroke="#222222" stroke-width="1.0"/>
<rect x="389.01" y="772.67" width="13.49" height="24.76" fill="#40923b" stroke="#222222" stroke-width="1.0"/>
<line x1="389.01" y1="787.62" x2="402.5" y2="787.62" stroke="#111111" stroke-width="1.4"/>
<path d="M395.76 731.89L397.16 734.13L395.76 736.37L394.36 734.13Z" fill="#262626"/>
<path d="M395.76 730.49L397.16 732.73L395.76 734.97L394.36 732.73Z" fill="#262626"/>
<path d="M395.76 729.09L397.16 731.33L395.76 733.57L394.36 731.33Z" fill="#262626"/>
<line x1="423.3" y1="812.15" x2="423.3" y2="828.96" stroke="#222222" stroke-width="1.0"/>
<line x1="423.3" y1="788.32" x2="423.3" y2="758.19" stroke="#222222" stroke-width="1.0"/>
<line x1="419.58" y1="828.96" x2="427.01" y2="828.96" stroke="#222222" stroke-width="1.0"/>
<line x1="419.58" y1="758.19" x2="427.01" y2="758.19" stroke="#222222" stroke-width="1.0"/>
<rect x="416.55" y="788.32" width="13.49" height="23.82" fill="#aeccdb" stroke="#222222" stroke-width="1.0"/>
<line x1="416.55" y1="802.57" x2="430.04" y2="802.57" stroke="#111111" stroke-width="1.4"/>
<path d="M423.3 750.11L424.69 752.35L423.3 754.59L421.9 752.35Z" fill="#262626"/>
<path d="M423.3 742.64L424.69 744.88L423.3 747.12L421.9 744.88Z" fill="#262626"/>
<path d="M423.3 727.92L424.69 730.16L423.3 732.4L421.9 730.16Z" fill="#262626"/>
<line x1="437.06" y1="819.15" x2="437.06" y2="839.24" stroke="#222222" stroke-width="1.0"/>
<line x1="437.06" y1="800.7" x2="437.06" y2="773.61" stroke="#222222" stroke-width="1.0"/>
<line x1="433.35" y1="839.24" x2="440.78" y2="839.24" stroke="#222222" stroke-width="1.0"/>
<line x1="433.35" y1="773.61" x2="440.78" y2="773.61" stroke="#222222" stroke-width="1.0"/>
<rect x="430.32" y="800.7" width="13.49" height="18.45" fill="#3274a1" stroke="#222222" stroke-width="1.0"/>
<line x1="430.32" y1="810.28" x2="443.81" y2="810.28" stroke="#111111" stroke-width="1.4"/>
<path d="M437.06 764.36L438.46 766.6L437.06 768.84L435.67 766.6Z" fill="#262626"/>
<path d="M437.06 762.72L438.46 764.96L437.06 767.2L435.67 764.96Z" fill="#262626"/>
<path d="M437.06 760.85L438.46 763.09L437.06 765.33L435.67 763.09Z" fill="#262626"/>
<path d="M437.06 759.22L438.46 761.46L437.06 763.7L435.67 761.46Z" fill="#262626"/>
<path d="M437.06 751.28L438.46 753.52L437.06 755.76L435.67 753.52Z" fill="#262626"/>
<path d="M437.06 733.29L438.46 735.53L437.06 737.77L435.67 735.53Z" fill="#262626"/>
<line x1="450.83" y1="801.4" x2="450.83" y2="825.23" stroke="#222222" stroke-width="1.0"/>
<line x1="450.83" y1="777.34" x2="450.83" y2="747.91" stroke="#222222" stroke-width="1.0"/>
<line x1="447.12" y1="825.23" x2="454.55" y2="825.23" stroke="#222222" stroke-width="1.0"/>
<line x1="447.12" y1="747.91" x2="454.55" y2="747.91" stroke="#222222" stroke-width="1.0"/>
<rect x="444.09" y="777.34" width="13.49" height="24.06" fill="#b3d495" stroke="#222222" stroke-width="1.0"/>
<line x1="444.09" y1="792.29" x2="457.58" y2="792.29" stroke="#111111" stroke-width="1.4"/>
<path d="M450.83 733.99L452.23 736.23L450.83 738.47L449.44 736.23Z" fill="#262626"/>
<path d="M450.83 730.96L452.23 733.2L450.83 735.44L449.44 733.2Z" fill="#262626"/>
<line x1="464.61" y1="809.11" x2="464.61" y2="828.5" stroke="#222222" stroke-width="1.0"/>
<line x1="464.61" y1="789.72" x2="464.61" y2="768" stroke="#222222" stroke-width="1.0"/>
<line x1="460.89" y1="828.5" x2="468.32" y2="828.5" stroke="#222222" stroke-width="1.0"/>
<line x1="460.89" y1="768" x2="468.32" y2="768" stroke="#222222" stroke-width="1.0"/>
<rect x="457.86" y="789.72" width="13.49" height="19.39" fill="#40923b" stroke="#222222" stroke-width="1.0"/>
<line x1="457.86" y1="800.47" x2="471.35" y2="800.47" stroke="#111111" stroke-width="1.4"/>
<path d="M464.61 757.58L466 759.82L464.61 762.06L463.21 759.82Z" fill="#262626"/>
<path d="M464.61 755.72L466 757.96L464.61 760.2L463.21 757.96Z" fill="#262626"/>
<path d="M464.61 751.04L466 753.28L464.61 755.52L463.21 753.28Z" fill="#262626"/>
<path d="M464.61 743.8L466 746.04L464.61 748.28L463.21 746.04Z" fill="#262626"/>
<path d="M464.61 734.46L466 736.7L464.61 738.94L463.21 736.7Z" fill="#262626"/>
<line x1="492.14" y1="814.19" x2="492.14" y2="825.28" stroke="#222222" stroke-width="1.0"/>
<line x1="492.14" y1="788.5" x2="492.14" y2="752.29" stroke="#222222" stroke-width="1.0"/>
<line x1="488.43" y1="825.28" x2="495.86" y2="825.28" stroke="#222222" stroke-width="1.0"/>
<line x1="488.43" y1="752.29" x2="495.86" y2="752.29" stroke="#222222" stroke-width="1.0"/>
<rect x="485.4" y="788.5" width="13.49" height="25.69" fill="#aeccdb" stroke="#222222" stroke-width="1.0"/>
<line x1="485.4" y1="803.97" x2="498.89" y2="803.97" stroke="#111111" stroke-width="1.4"/>
<path d="M492.14 746.26L493.54 748.5L492.14 750.74L490.75 748.5Z" fill="#262626"/>
<path d="M492.14 742.75L493.54 744.99L492.14 747.23L490.75 744.99Z" fill="#262626"/>
<path d="M492.14 739.25L493.54 741.49L492.14 743.73L490.75 741.49Z" fill="#262626"/>
<path d="M492.14 735.45L493.54 737.69L492.14 739.93L490.75 737.69Z" fill="#262626"/>
<line x1="505.91" y1="821.2" x2="505.91" y2="840.47" stroke="#222222" stroke-width="1.0"/>
<line x1="505.91" y1="797.84" x2="505.91" y2="764.26" stroke="#222222" stroke-width="1.0"/>
<line x1="502.2" y1="840.47" x2="509.63" y2="840.47" stroke="#222222" stroke-width="1.0"/>
<line x1="502.2" y1="764.26" x2="509.63" y2="764.26" stroke="#222222" stroke-width="1.0"/>
<rect x="499.17" y="797.84" width="13.49" height="23.36" fill="#3274a1" stroke="#222222" stroke-width="1.0"/>
<line x1="499.17" y1="811.56" x2="512.66" y2="811.56" stroke="#111111" stroke-width="1.4"/>
<path d="M505.91 748.01L507.31 750.25L505.91 752.49L504.51 750.25Z" fill="#262626"/>
<path d="M505.91 744.5L507.31 746.74L505.91 748.98L504.51 746.74Z" fill="#262626"/>
<path d="M505.91 741L507.31 743.24L505.91 745.48L504.51 743.24Z" fill="#262626"/>
<path d="M505.91 737.79L507.31 740.03L505.91 742.27L504.51 740.03Z" fill="#262626"/>
<line x1="519.68" y1="803.39" x2="519.68" y2="817.99" stroke="#222222" stroke-width="1.0"/>
<line x1="519.68" y1="775.36" x2="519.68" y2="734.19" stroke="#222222" stroke-width="1.0"/>
<line x1="515.97" y1="817.99" x2="523.4" y2="817.99" stroke="#222222" stroke-width="1.0"/>
<line x1="515.97" y1="734.19" x2="523.4" y2="734.19" stroke="#222222" stroke-width="1.0"/>
<rect x="512.94" y="775.36" width="13.49" height="28.03" fill="#b3d495" stroke="#222222" stroke-width="1.0"/>
<line x1="512.94" y1="792.29" x2="526.43" y2="792.29" stroke="#111111" stroke-width="1.4"/>
<line x1="533.45" y1="810.39" x2="533.45" y2="828.5" stroke="#222222" stroke-width="1.0"/>
<line x1="533.45" y1="787.91" x2="533.45" y2="754.92" stroke="#222222" stroke-width="1.0"/>
<line x1="529.74" y1="828.5" x2="537.17" y2="828.5" stroke="#222222" stroke-width="1.0"/>
<line x1="529.74" y1="754.92" x2="537.17" y2="754.92" stroke="#222222" stroke-width="1.0"/>
<rect x="526.71" y="787.91" width="13.49" height="22.48" fill="#40923b" stroke="#222222" stroke-width="1.0"/>
<line x1="526.71" y1="799.88" x2="540.2" y2="799.88" stroke="#111111" stroke-width="1.4"/>
<path d="M533.45 740.42L534.85 742.66L533.45 744.9L532.05 742.66Z" fill="#262626"/>
<path d="M533.45 738.08L534.85 740.32L533.45 742.56L532.05 740.32Z" fill="#262626"/>
<path d="M533.45 733.41L534.85 735.65L533.45 737.89L532.05 735.65Z" fill="#262626"/>
<line x1="561" y1="819.74" x2="561" y2="840.47" stroke="#222222" stroke-width="1.0"/>
<line x1="561" y1="789.08" x2="561" y2="755.5" stroke="#222222" stroke-width="1.0"/>
<line x1="557.28" y1="840.47" x2="564.71" y2="840.47" stroke="#222222" stroke-width="1.0"/>
<line x1="557.28" y1="755.5" x2="564.71" y2="755.5" stroke="#222222" stroke-width="1.0"/>
<rect x="554.25" y="789.08" width="13.49" height="30.66" fill="#aeccdb" stroke="#222222" stroke-width="1.0"/>
<line x1="554.25" y1="804.26" x2="567.74" y2="804.26" stroke="#111111" stroke-width="1.4"/>
<path d="M561 734.29L562.39 736.53L561 738.77L559.6 736.53Z" fill="#262626"/>
<line x1="574.76" y1="819.74" x2="574.76" y2="841.64" stroke="#222222" stroke-width="1.0"/>
<line x1="574.76" y1="789.96" x2="574.76" y2="755.5" stroke="#222222" stroke-width="1.0"/>
<line x1="571.05" y1="841.64" x2="578.48" y2="841.64" stroke="#222222" stroke-width="1.0"/>
<line x1="571.05" y1="755.5" x2="578.48" y2="755.5" stroke="#222222" stroke-width="1.0"/>
<rect x="568.02" y="789.96" width="13.49" height="29.78" fill="#3274a1" stroke="#222222" stroke-width="1.0"/>
<line x1="568.02" y1="804.26" x2="581.51" y2="804.26" stroke="#111111" stroke-width="1.4"/>
<path d="M574.76 734.29L576.16 736.53L574.76 738.77L573.37 736.53Z" fill="#262626"/>
<line x1="588.53" y1="810.39" x2="588.53" y2="831.12" stroke="#222222" stroke-width="1.0"/>
<line x1="588.53" y1="782.66" x2="588.53" y2="746.16" stroke="#222222" stroke-width="1.0"/>
<line x1="584.82" y1="831.12" x2="592.25" y2="831.12" stroke="#222222" stroke-width="1.0"/>
<line x1="584.82" y1="746.16" x2="592.25" y2="746.16" stroke="#222222" stroke-width="1.0"/>
<rect x="581.79" y="782.66" width="13.49" height="27.74" fill="#b3d495" stroke="#222222" stroke-width="1.0"/>
<line x1="581.79" y1="797.55" x2="595.28" y2="797.55" stroke="#111111" stroke-width="1.4"/>
<line x1="602.3" y1="810.39" x2="602.3" y2="831.12" stroke="#222222" stroke-width="1.0"/>
<line x1="602.3" y1="782.66" x2="602.3" y2="746.16" stroke="#222222" stroke-width="1.0"/>
<line x1="598.59" y1="831.12" x2="606.02" y2="831.12" stroke="#222222" stroke-width="1.0"/>
<line x1="598.59" y1="746.16" x2="606.02" y2="746.16" stroke="#222222" stroke-width="1.0"/>
<rect x="595.56" y="782.66" width="13.49" height="27.74" fill="#40923b" stroke="#222222" stroke-width="1.0"/>
<line x1="595.56" y1="797.55" x2="609.05" y2="797.55" stroke="#111111" stroke-width="1.4"/>
<line x1="629.85" y1="834.04" x2="629.85" y2="843.97" stroke="#222222" stroke-width="1.0"/>
<line x1="629.85" y1="819.45" x2="629.85" y2="804.26" stroke="#222222" stroke-width="1.0"/>
<line x1="626.13" y1="843.97" x2="633.56" y2="843.97" stroke="#222222" stroke-width="1.0"/>
<line x1="626.13" y1="804.26" x2="633.56" y2="804.26" stroke="#222222" stroke-width="1.0"/>
<rect x="623.1" y="819.45" width="13.49" height="14.6" fill="#aeccdb" stroke="#222222" stroke-width="1.0"/>
<line x1="623.1" y1="826.16" x2="636.59" y2="826.16" stroke="#111111" stroke-width="1.4"/>
<path d="M629.85 794.14L631.25 796.38L629.85 798.62L628.45 796.38Z" fill="#262626"/>
<path d="M629.85 789.47L631.25 791.71L629.85 793.95L628.45 791.71Z" fill="#262626"/>
<path d="M629.85 783.63L631.25 785.87L629.85 788.11L628.45 785.87Z" fill="#262626"/>
<path d="M629.85 776.91L631.25 779.15L629.85 781.39L628.45 779.15Z" fill="#262626"/>
<line x1="643.62" y1="836.09" x2="643.62" y2="843.97" stroke="#222222" stroke-width="1.0"/>
<line x1="643.62" y1="821.49" x2="643.62" y2="801.05" stroke="#222222" stroke-width="1.0"/>
<line x1="639.9" y1="843.97" x2="647.33" y2="843.97" stroke="#222222" stroke-width="1.0"/>
<line x1="639.9" y1="801.05" x2="647.33" y2="801.05" stroke="#222222" stroke-width="1.0"/>
<rect x="636.87" y="821.49" width="13.49" height="14.6" fill="#3274a1" stroke="#222222" stroke-width="1.0"/>
<line x1="636.87" y1="827.62" x2="650.36" y2="827.62" stroke="#111111" stroke-width="1.4"/>
<path d="M643.62 795.31L645.01 797.55L643.62 799.79L642.22 797.55Z" fill="#262626"/>
<path d="M643.62 785.67L645.01 787.91L643.62 790.15L642.22 787.91Z" fill="#262626"/>
<line x1="657.38" y1="822.07" x2="657.38" y2="829.37" stroke="#222222" stroke-width="1.0"/>
<line x1="657.38" y1="808.35" x2="657.38" y2="789.37" stroke="#222222" stroke-width="1.0"/>
<line x1="653.67" y1="829.37" x2="661.1" y2="829.37" stroke="#222222" stroke-width="1.0"/>
<line x1="653.67" y1="789.37" x2="661.1" y2="789.37" stroke="#222222" stroke-width="1.0"/>
<rect x="650.64" y="808.35" width="13.49" height="13.72" fill="#b3d495" stroke="#222222" stroke-width="1.0"/>
<line x1="650.64" y1="815.94" x2="664.13" y2="815.94" stroke="#111111" stroke-width="1.4"/>
<path d="M657.38 782.17L658.78 784.41L657.38 786.65L655.99 784.41Z" fill="#262626"/>
<path d="M657.38 779.83L658.78 782.07L657.38 784.31L655.99 782.07Z" fill="#262626"/>
<path d="M657.38 777.21L658.78 779.45L657.38 781.69L655.99 779.45Z" fill="#262626"/>
<path d="M657.38 766.99L658.78 769.23L657.38 771.47L655.99 769.23Z" fill="#262626"/>
<line x1="671.15" y1="823.24" x2="671.15" y2="831.12" stroke="#222222" stroke-width="1.0"/>
<line x1="671.15" y1="810.39" x2="671.15" y2="794.04" stroke="#222222" stroke-width="1.0"/>
<line x1="667.44" y1="831.12" x2="674.87" y2="831.12" stroke="#222222" stroke-width="1.0"/>
<line x1="667.44" y1="794.04" x2="674.87" y2="794.04" stroke="#222222" stroke-width="1.0"/>
<rect x="664.41" y="810.39" width="13.49" height="12.85" fill="#40923b" stroke="#222222" stroke-width="1.0"/>
<line x1="664.41" y1="818.86" x2="677.9" y2="818.86" stroke="#111111" stroke-width="1.4"/>
<path d="M671.15 785.96L672.55 788.2L671.15 790.44L669.75 788.2Z" fill="#262626"/>
<path d="M671.15 784.21L672.55 786.45L671.15 788.69L669.75 786.45Z" fill="#262626"/>
<path d="M671.15 780.71L672.55 782.95L671.15 785.19L669.75 782.95Z" fill="#262626"/>
<path d="M671.15 776.62L672.55 778.86L671.15 781.1L669.75 778.86Z" fill="#262626"/>
<line x1="203.2" y1="827.33" x2="684.6" y2="827.33" stroke="#ff2a2a" stroke-width="1.0" stroke-opacity="0.85"/>
<rect x="34.65" y="2.5" width="55.4" height="168" fill="none" stroke="#262626" stroke-width="0.95"/>
<rect x="34.65" y="171.4" width="55.4" height="168" fill="none" stroke="#262626" stroke-width="0.95"/>
<rect x="34.65" y="339.5" width="55.4" height="168" fill="none" stroke="#262626" stroke-width="0.95"/>
<rect x="34.65" y="508.3" width="55.4" height="168" fill="none" stroke="#262626" stroke-width="0.95"/>
<rect x="34.65" y="676.4" width="55.4" height="168" fill="none" stroke="#262626" stroke-width="0.95"/>
<rect x="134.2" y="2.5" width="69" height="168" fill="none" stroke="#262626" stroke-width="0.95"/>
<rect x="134.2" y="171.4" width="69" height="168" fill="none" stroke="#262626" stroke-width="0.95"/>
<rect x="134.2" y="339.5" width="69" height="168" fill="none" stroke="#262626" stroke-width="0.95"/>
<rect x="134.2" y="508.3" width="69" height="168" fill="none" stroke="#262626" stroke-width="0.95"/>
<rect x="134.2" y="676.4" width="69" height="168" fill="none" stroke="#262626" stroke-width="0.95"/>
<rect x="203.2" y="2.5" width="481.4" height="168" fill="none" stroke="#262626" stroke-width="0.95"/>
<rect x="203.2" y="171.4" width="481.4" height="168" fill="none" stroke="#262626" stroke-width="0.95"/>
<rect x="203.2" y="339.5" width="481.4" height="168" fill="none" stroke="#262626" stroke-width="0.95"/>
<rect x="203.2" y="508.3" width="481.4" height="168" fill="none" stroke="#262626" stroke-width="0.95"/>
<rect x="203.2" y="676.4" width="481.4" height="168" fill="none" stroke="#262626" stroke-width="0.95"/>
<line x1="31.45" y1="170.5" x2="34.65" y2="170.5" stroke="#262626" stroke-width="0.8"/>
<text x="30" y="174.6" font-size="10" text-anchor="end">0</text>
<line x1="31.45" y1="146.5" x2="34.65" y2="146.5" stroke="#262626" stroke-width="0.8"/>
<text x="30" y="150.6" font-size="10" text-anchor="end">100</text>
<line x1="31.45" y1="122.5" x2="34.65" y2="122.5" stroke="#262626" stroke-width="0.8"/>
<text x="30" y="126.6" font-size="10" text-anchor="end">200</text>
<line x1="31.45" y1="98.5" x2="34.65" y2="98.5" stroke="#262626" stroke-width="0.8"/>
<text x="30" y="102.6" font-size="10" text-anchor="end">300</text>
<line x1="31.45" y1="74.5" x2="34.65" y2="74.5" stroke="#262626" stroke-width="0.8"/>
<text x="30" y="78.6" font-size="10" text-anchor="end">400</text>
<line x1="31.45" y1="50.5" x2="34.65" y2="50.5" stroke="#262626" stroke-width="0.8"/>
<text x="30" y="54.6" font-size="10" text-anchor="end">500</text>
<line x1="31.45" y1="26.5" x2="34.65" y2="26.5" stroke="#262626" stroke-width="0.8"/>
<text x="30" y="30.6" font-size="10" text-anchor="end">600</text>
<line x1="31.45" y1="2.5" x2="34.65" y2="2.5" stroke="#262626" stroke-width="0.8"/>
<text x="30" y="6.6" font-size="10" text-anchor="end">700</text>
<line x1="131" y1="170.5" x2="134.2" y2="170.5" stroke="#262626" stroke-width="0.8"/>
<line x1="200" y1="170.5" x2="203.2" y2="170.5" stroke="#262626" stroke-width="0.8"/>
<text x="128.6" y="174.6" font-size="10" text-anchor="end">0</text>
<line x1="131" y1="132.4" x2="134.2" y2="132.4" stroke="#262626" stroke-width="0.8"/>
<line x1="200" y1="132.4" x2="203.2" y2="132.4" stroke="#262626" stroke-width="0.8"/>
<text x="128.6" y="136.5" font-size="10" text-anchor="end">100</text>
<line x1="131" y1="93.9" x2="134.2" y2="93.9" stroke="#262626" stroke-width="0.8"/>
<line x1="200" y1="93.9" x2="203.2" y2="93.9" stroke="#262626" stroke-width="0.8"/>
<text x="128.6" y="98" font-size="10" text-anchor="end">200</text>
<line x1="131" y1="55.4" x2="134.2" y2="55.4" stroke="#262626" stroke-width="0.8"/>
<line x1="200" y1="55.4" x2="203.2" y2="55.4" stroke="#262626" stroke-width="0.8"/>
<text x="128.6" y="59.5" font-size="10" text-anchor="end">300</text>
<line x1="131" y1="16.9" x2="134.2" y2="16.9" stroke="#262626" stroke-width="0.8"/>
<line x1="200" y1="16.9" x2="203.2" y2="16.9" stroke="#262626" stroke-width="0.8"/>
<text x="128.6" y="21" font-size="10" text-anchor="end">400</text>
<text transform="translate(9.2,86.5) rotate(-90)" font-size="12" text-anchor="middle" textLength="57.3" lengthAdjust="spacingAndGlyphs">no. of arcs</text>
<text transform="translate(109.2,86.5) rotate(-90)" font-size="12" text-anchor="middle" textLength="92.8" lengthAdjust="spacingAndGlyphs">no. of differences</text>
<text x="144" y="31.3" font-size="12" text-anchor="start" textLength="49" lengthAdjust="spacingAndGlyphs">ins. 0.05,</text>
<text x="144" y="43.4" font-size="12" text-anchor="start" textLength="46.5" lengthAdjust="spacingAndGlyphs">del. 0.05</text>
<line x1="31.45" y1="339.4" x2="34.65" y2="339.4" stroke="#262626" stroke-width="0.8"/>
<text x="30" y="343.5" font-size="10" text-anchor="end">0</text>
<line x1="31.45" y1="315.4" x2="34.65" y2="315.4" stroke="#262626" stroke-width="0.8"/>
<text x="30" y="319.5" font-size="10" text-anchor="end">100</text>
<line x1="31.45" y1="291.4" x2="34.65" y2="291.4" stroke="#262626" stroke-width="0.8"/>
<text x="30" y="295.5" font-size="10" text-anchor="end">200</text>
<line x1="31.45" y1="267.4" x2="34.65" y2="267.4" stroke="#262626" stroke-width="0.8"/>
<text x="30" y="271.5" font-size="10" text-anchor="end">300</text>
<line x1="31.45" y1="243.4" x2="34.65" y2="243.4" stroke="#262626" stroke-width="0.8"/>
<text x="30" y="247.5" font-size="10" text-anchor="end">400</text>
<line x1="31.45" y1="219.4" x2="34.65" y2="219.4" stroke="#262626" stroke-width="0.8"/>
<text x="30" y="223.5" font-size="10" text-anchor="end">500</text>
<line x1="31.45" y1="195.4" x2="34.65" y2="195.4" stroke="#262626" stroke-width="0.8"/>
<text x="30" y="199.5" font-size="10" text-anchor="end">600</text>
<line x1="31.45" y1="171.4" x2="34.65" y2="171.4" stroke="#262626" stroke-width="0.8"/>
<text x="30" y="175.5" font-size="10" text-anchor="end">700</text>
<line x1="131" y1="339.4" x2="134.2" y2="339.4" stroke="#262626" stroke-width="0.8"/>
<line x1="200" y1="339.4" x2="203.2" y2="339.4" stroke="#262626" stroke-width="0.8"/>
<text x="128.6" y="343.5" font-size="10" text-anchor="end">0</text>
<line x1="131" y1="300.8" x2="134.2" y2="300.8" stroke="#262626" stroke-width="0.8"/>
<line x1="200" y1="300.8" x2="203.2" y2="300.8" stroke="#262626" stroke-width="0.8"/>
<text x="128.6" y="304.9" font-size="10" text-anchor="end">100</text>
<line x1="131" y1="262.3" x2="134.2" y2="262.3" stroke="#262626" stroke-width="0.8"/>
<line x1="200" y1="262.3" x2="203.2" y2="262.3" stroke="#262626" stroke-width="0.8"/>
<text x="128.6" y="266.4" font-size="10" text-anchor="end">200</text>
<line x1="131" y1="223.8" x2="134.2" y2="223.8" stroke="#262626" stroke-width="0.8"/>
<line x1="200" y1="223.8" x2="203.2" y2="223.8" stroke="#262626" stroke-width="0.8"/>
<text x="128.6" y="227.9" font-size="10" text-anchor="end">300</text>
<line x1="131" y1="185.3" x2="134.2" y2="185.3" stroke="#262626" stroke-width="0.8"/>
<line x1="200" y1="185.3" x2="203.2" y2="185.3" stroke="#262626" stroke-width="0.8"/>
<text x="128.6" y="189.4" font-size="10" text-anchor="end">400</text>
<text transform="translate(9.2,255.4) rotate(-90)" font-size="12" text-anchor="middle" textLength="57.3" lengthAdjust="spacingAndGlyphs">no. of arcs</text>
<text transform="translate(109.2,255.4) rotate(-90)" font-size="12" text-anchor="middle" textLength="92.8" lengthAdjust="spacingAndGlyphs">no. of differences</text>
<text x="147.2" y="200.2" font-size="12" text-anchor="start" textLength="42.6" lengthAdjust="spacingAndGlyphs">ins. 0.1,</text>
<text x="147.2" y="212.3" font-size="12" text-anchor="start" textLength="39.2" lengthAdjust="spacingAndGlyphs">del. 0.1</text>
<line x1="31.45" y1="507.5" x2="34.65" y2="507.5" stroke="#262626" stroke-width="0.8"/>
<text x="30" y="511.6" font-size="10" text-anchor="end">0</text>
<line x1="31.45" y1="483.5" x2="34.65" y2="483.5" stroke="#262626" stroke-width="0.8"/>
<text x="30" y="487.6" font-size="10" text-anchor="end">100</text>
<line x1="31.45" y1="459.5" x2="34.65" y2="459.5" stroke="#262626" stroke-width="0.8"/>
<text x="30" y="463.6" font-size="10" text-anchor="end">200</text>
<line x1="31.45" y1="435.5" x2="34.65" y2="435.5" stroke="#262626" stroke-width="0.8"/>
<text x="30" y="439.6" font-size="10" text-anchor="end">300</text>
<line x1="31.45" y1="411.5" x2="34.65" y2="411.5" stroke="#262626" stroke-width="0.8"/>
<text x="30" y="415.6" font-size="10" text-anchor="end">400</text>
<line x1="31.45" y1="387.5" x2="34.65" y2="387.5" stroke="#262626" stroke-width="0.8"/>
<text x="30" y="391.6" font-size="10" text-anchor="end">500</text>
<line x1="31.45" y1="363.5" x2="34.65" y2="363.5" stroke="#262626" stroke-width="0.8"/>
<text x="30" y="367.6" font-size="10" text-anchor="end">600</text>
<line x1="31.45" y1="339.5" x2="34.65" y2="339.5" stroke="#262626" stroke-width="0.8"/>
<text x="30" y="343.6" font-size="10" text-anchor="end">700</text>
<line x1="131" y1="507.5" x2="134.2" y2="507.5" stroke="#262626" stroke-width="0.8"/>
<line x1="200" y1="507.5" x2="203.2" y2="507.5" stroke="#262626" stroke-width="0.8"/>
<text x="128.6" y="511.6" font-size="10" text-anchor="end">0</text>
<line x1="131" y1="469.3" x2="134.2" y2="469.3" stroke="#262626" stroke-width="0.8"/>
<line x1="200" y1="469.3" x2="203.2" y2="469.3" stroke="#262626" stroke-width="0.8"/>
<text x="128.6" y="473.4" font-size="10" text-anchor="end">100</text>
<line x1="131" y1="430.8" x2="134.2" y2="430.8" stroke="#262626" stroke-width="0.8"/>
<line x1="200" y1="430.8" x2="203.2" y2="430.8" stroke="#262626" stroke-width="0.8"/>
<text x="128.6" y="434.9" font-size="10" text-anchor="end">200</text>
<line x1="131" y1="392.3" x2="134.2" y2="392.3" stroke="#262626" stroke-width="0.8"/>
<line x1="200" y1="392.3" x2="203.2" y2="392.3" stroke="#262626" stroke-width="0.8"/>
<text x="128.6" y="396.4" font-size="10" text-anchor="end">300</text>
<line x1="131" y1="353.8" x2="134.2" y2="353.8" stroke="#262626" stroke-width="0.8"/>
<line x1="200" y1="353.8" x2="203.2" y2="353.8" stroke="#262626" stroke-width="0.8"/>
<text x="128.6" y="357.9" font-size="10" text-anchor="end">400</text>
<text transform="translate(9.2,423.5) rotate(-90)" font-size="12" text-anchor="middle" textLength="57.3" lengthAdjust="spacingAndGlyphs">no. of arcs</text>
<text transform="translate(109.2,423.5) rotate(-90)" font-size="12" text-anchor="middle" textLength="92.8" lengthAdjust="spacingAndGlyphs">no. of differences</text>
<text x="147.2" y="368.3" font-size="12" text-anchor="start" textLength="42.6" lengthAdjust="spacingAndGlyphs">ins. 0.2,</text>
<text x="147.2" y="380.4" font-size="12" text-anchor="start" textLength="39.2" lengthAdjust="spacingAndGlyphs">del. 0.2</text>
<line x1="31.45" y1="676.3" x2="34.65" y2="676.3" stroke="#262626" stroke-width="0.8"/>
<text x="30" y="680.4" font-size="10" text-anchor="end">0</text>
<line x1="31.45" y1="652.3" x2="34.65" y2="652.3" stroke="#262626" stroke-width="0.8"/>
<text x="30" y="656.4" font-size="10" text-anchor="end">100</text>
<line x1="31.45" y1="628.3" x2="34.65" y2="628.3" stroke="#262626" stroke-width="0.8"/>
<text x="30" y="632.4" font-size="10" text-anchor="end">200</text>
<line x1="31.45" y1="604.3" x2="34.65" y2="604.3" stroke="#262626" stroke-width="0.8"/>
<text x="30" y="608.4" font-size="10" text-anchor="end">300</text>
<line x1="31.45" y1="580.3" x2="34.65" y2="580.3" stroke="#262626" stroke-width="0.8"/>
<text x="30" y="584.4" font-size="10" text-anchor="end">400</text>
<line x1="31.45" y1="556.3" x2="34.65" y2="556.3" stroke="#262626" stroke-width="0.8"/>
<text x="30" y="560.4" font-size="10" text-anchor="end">500</text>
<line x1="31.45" y1="532.3" x2="34.65" y2="532.3" stroke="#262626" stroke-width="0.8"/>
<text x="30" y="536.4" font-size="10" text-anchor="end">600</text>
<line x1="31.45" y1="508.3" x2="34.65" y2="508.3" stroke="#262626" stroke-width="0.8"/>
<text x="30" y="512.4" font-size="10" text-anchor="end">700</text>
<line x1="131" y1="676.3" x2="134.2" y2="676.3" stroke="#262626" stroke-width="0.8"/>
<line x1="200" y1="676.3" x2="203.2" y2="676.3" stroke="#262626" stroke-width="0.8"/>
<text x="128.6" y="680.4" font-size="10" text-anchor="end">0</text>
<line x1="131" y1="637.7" x2="134.2" y2="637.7" stroke="#262626" stroke-width="0.8"/>
<line x1="200" y1="637.7" x2="203.2" y2="637.7" stroke="#262626" stroke-width="0.8"/>
<text x="128.6" y="641.8" font-size="10" text-anchor="end">100</text>
<line x1="131" y1="599.2" x2="134.2" y2="599.2" stroke="#262626" stroke-width="0.8"/>
<line x1="200" y1="599.2" x2="203.2" y2="599.2" stroke="#262626" stroke-width="0.8"/>
<text x="128.6" y="603.3" font-size="10" text-anchor="end">200</text>
<line x1="131" y1="560.7" x2="134.2" y2="560.7" stroke="#262626" stroke-width="0.8"/>
<line x1="200" y1="560.7" x2="203.2" y2="560.7" stroke="#262626" stroke-width="0.8"/>
<text x="128.6" y="564.8" font-size="10" text-anchor="end">300</text>
<line x1="131" y1="522.2" x2="134.2" y2="522.2" stroke="#262626" stroke-width="0.8"/>
<line x1="200" y1="522.2" x2="203.2" y2="522.2" stroke="#262626" stroke-width="0.8"/>
<text x="128.6" y="526.3" font-size="10" text-anchor="end">400</text>
<text transform="translate(9.2,592.3) rotate(-90)" font-size="12" text-anchor="middle" textLength="57.3" lengthAdjust="spacingAndGlyphs">no. of arcs</text>
<text transform="translate(109.2,592.3) rotate(-90)" font-size="12" text-anchor="middle" textLength="92.8" lengthAdjust="spacingAndGlyphs">no. of differences</text>
<text x="147.2" y="537.1" font-size="12" text-anchor="start" textLength="42.6" lengthAdjust="spacingAndGlyphs">ins. 0.1,</text>
<text x="147.2" y="549.2" font-size="12" text-anchor="start" textLength="39.2" lengthAdjust="spacingAndGlyphs">del. 0.0</text>
<line x1="31.45" y1="844.4" x2="34.65" y2="844.4" stroke="#262626" stroke-width="0.8"/>
<text x="30" y="848.5" font-size="10" text-anchor="end">0</text>
<line x1="31.45" y1="820.4" x2="34.65" y2="820.4" stroke="#262626" stroke-width="0.8"/>
<text x="30" y="824.5" font-size="10" text-anchor="end">100</text>
<line x1="31.45" y1="796.4" x2="34.65" y2="796.4" stroke="#262626" stroke-width="0.8"/>
<text x="30" y="800.5" font-size="10" text-anchor="end">200</text>
<line x1="31.45" y1="772.4" x2="34.65" y2="772.4" stroke="#262626" stroke-width="0.8"/>
<text x="30" y="776.5" font-size="10" text-anchor="end">300</text>
<line x1="31.45" y1="748.4" x2="34.65" y2="748.4" stroke="#262626" stroke-width="0.8"/>
<text x="30" y="752.5" font-size="10" text-anchor="end">400</text>
<line x1="31.45" y1="724.4" x2="34.65" y2="724.4" stroke="#262626" stroke-width="0.8"/>
<text x="30" y="728.5" font-size="10" text-anchor="end">500</text>
<line x1="31.45" y1="700.4" x2="34.65" y2="700.4" stroke="#262626" stroke-width="0.8"/>
<text x="30" y="704.5" font-size="10" text-anchor="end">600</text>
<line x1="31.45" y1="676.4" x2="34.65" y2="676.4" stroke="#262626" stroke-width="0.8"/>
<text x="30" y="680.5" font-size="10" text-anchor="end">700</text>
<line x1="131" y1="844.4" x2="134.2" y2="844.4" stroke="#262626" stroke-width="0.8"/>
<line x1="200" y1="844.4" x2="203.2" y2="844.4" stroke="#262626" stroke-width="0.8"/>
<text x="128.6" y="848.5" font-size="10" text-anchor="end">0</text>
<line x1="131" y1="806.1" x2="134.2" y2="806.1" stroke="#262626" stroke-width="0.8"/>
<line x1="200" y1="806.1" x2="203.2" y2="806.1" stroke="#262626" stroke-width="0.8"/>
<text x="128.6" y="810.2" font-size="10" text-anchor="end">100</text>
<line x1="131" y1="767.6" x2="134.2" y2="767.6" stroke="#262626" stroke-width="0.8"/>
<line x1="200" y1="767.6" x2="203.2" y2="767.6" stroke="#262626" stroke-width="0.8"/>
<text x="128.6" y="771.7" font-size="10" text-anchor="end">200</text>
<line x1="131" y1="729.1" x2="134.2" y2="729.1" stroke="#262626" stroke-width="0.8"/>
<line x1="200" y1="729.1" x2="203.2" y2="729.1" stroke="#262626" stroke-width="0.8"/>
<text x="128.6" y="733.2" font-size="10" text-anchor="end">300</text>
<line x1="131" y1="690.6" x2="134.2" y2="690.6" stroke="#262626" stroke-width="0.8"/>
<line x1="200" y1="690.6" x2="203.2" y2="690.6" stroke="#262626" stroke-width="0.8"/>
<text x="128.6" y="694.7" font-size="10" text-anchor="end">400</text>
<text transform="translate(9.2,760.4) rotate(-90)" font-size="12" text-anchor="middle" textLength="57.3" lengthAdjust="spacingAndGlyphs">no. of arcs</text>
<text transform="translate(109.2,760.4) rotate(-90)" font-size="12" text-anchor="middle" textLength="92.8" lengthAdjust="spacingAndGlyphs">no. of differences</text>
<text x="147.2" y="705.2" font-size="12" text-anchor="start" textLength="42.6" lengthAdjust="spacingAndGlyphs">ins. 0.0,</text>
<text x="147.2" y="717.3" font-size="12" text-anchor="start" textLength="39.2" lengthAdjust="spacingAndGlyphs">del. 0.1</text>
<line x1="48.5" y1="844.4" x2="48.5" y2="847.6" stroke="#262626" stroke-width="0.8"/>
<line x1="76.2" y1="844.4" x2="76.2" y2="847.6" stroke="#262626" stroke-width="0.8"/>
<line x1="145.7" y1="844.4" x2="145.7" y2="847.6" stroke="#262626" stroke-width="0.8"/>
<line x1="168.7" y1="844.4" x2="168.7" y2="847.6" stroke="#262626" stroke-width="0.8"/>
<line x1="191.7" y1="844.4" x2="191.7" y2="847.6" stroke="#262626" stroke-width="0.8"/>
<line x1="237.4" y1="844.4" x2="237.4" y2="847.6" stroke="#262626" stroke-width="0.8"/>
<line x1="306.25" y1="844.4" x2="306.25" y2="847.6" stroke="#262626" stroke-width="0.8"/>
<line x1="375.1" y1="844.4" x2="375.1" y2="847.6" stroke="#262626" stroke-width="0.8"/>
<line x1="443.95" y1="844.4" x2="443.95" y2="847.6" stroke="#262626" stroke-width="0.8"/>
<line x1="512.8" y1="844.4" x2="512.8" y2="847.6" stroke="#262626" stroke-width="0.8"/>
<line x1="581.65" y1="844.4" x2="581.65" y2="847.6" stroke="#262626" stroke-width="0.8"/>
<line x1="650.5" y1="844.4" x2="650.5" y2="847.6" stroke="#262626" stroke-width="0.8"/>
<text x="36.6" y="859" font-size="12" text-anchor="start" textLength="23.5" lengthAdjust="spacingAndGlyphs">orig.</text>
<text x="64.6" y="859" font-size="12" text-anchor="start" textLength="22.7" lengthAdjust="spacingAndGlyphs">dist.</text>
<text x="136.3" y="859" font-size="12" text-anchor="start" textLength="18.4" lengthAdjust="spacingAndGlyphs">tot.</text>
<text x="159.8" y="859" font-size="12" text-anchor="start" textLength="17" lengthAdjust="spacingAndGlyphs">ins.</text>
<text x="182.1" y="859" font-size="12" text-anchor="start" textLength="19.4" lengthAdjust="spacingAndGlyphs">del.</text>
<text x="219" y="859" font-size="11.3" text-anchor="start" textLength="37.1" lengthAdjust="spacingAndGlyphs">MinCut</text>
<text x="290.1" y="859" font-size="11.3" text-anchor="start" textLength="32.6" lengthAdjust="spacingAndGlyphs">BPMF</text>
<text x="359.2" y="859" font-size="11.3" text-anchor="start" textLength="32.2" lengthAdjust="spacingAndGlyphs">Karger</text>
<text x="408.3" y="859" font-size="11.3" text-anchor="start" textLength="70.7" lengthAdjust="spacingAndGlyphs">Simple Greedy</text>
<text x="484.5" y="859" font-size="11.3" text-anchor="start" textLength="57" lengthAdjust="spacingAndGlyphs">Grad. Walk</text>
<text x="551.9" y="859" font-size="11.3" text-anchor="start" textLength="59.5" lengthAdjust="spacingAndGlyphs">Louvain (m)</text>
<text x="624.7" y="859" font-size="11.3" text-anchor="start" textLength="53.3" lengthAdjust="spacingAndGlyphs">Louvain (c)</text>
<rect x="459.4" y="7.4" width="220.7" height="35.5" rx="2" ry="2" fill="#ffffff" fill-opacity="0.8" stroke="#cccccc" stroke-width="0.9"/>
<rect x="463.5" y="13.5" width="20.3" height="7.2" fill="#aeccdb" stroke="#222222" stroke-width="0.9"/>
<text x="490.9" y="20.7" font-size="10.2" text-anchor="start" textLength="31.3" lengthAdjust="spacingAndGlyphs"><tspan font-style="italic">G</tspan>(<tspan font-style="italic">T</tspan>, <tspan font-style="italic">σ</tspan>)</text>
<text x="492.6" y="13.3" font-size="7" text-anchor="start" textLength="5.6" lengthAdjust="spacingAndGlyphs">→</text>
<text x="526" y="20.7" font-size="10.2" text-anchor="start" textLength="29.7" lengthAdjust="spacingAndGlyphs">vs orig.</text>
<rect x="463.5" y="30.1" width="20.3" height="7.2" fill="#3274a1" stroke="#222222" stroke-width="0.9"/>
<text x="490.9" y="37.3" font-size="10.2" text-anchor="start" textLength="35.6" lengthAdjust="spacingAndGlyphs"><tspan font-style="italic">G</tspan>(<tspan font-style="italic">T</tspan><tspan font-size="8" dy="-2.6">*</tspan><tspan dy="2.6">,</tspan> <tspan font-style="italic">σ</tspan>)</text>
<text x="492.6" y="29.9" font-size="7" text-anchor="start" textLength="5.6" lengthAdjust="spacingAndGlyphs">→</text>
<text x="530.3" y="37.3" font-size="10.2" text-anchor="start" textLength="29.8" lengthAdjust="spacingAndGlyphs">vs orig.</text>
<rect x="579.6" y="13.5" width="20.3" height="7.2" fill="#b3d495" stroke="#222222" stroke-width="0.9"/>
<text x="607" y="20.7" font-size="10.2" text-anchor="start" textLength="31.1" lengthAdjust="spacingAndGlyphs"><tspan font-style="italic">G</tspan>(<tspan font-style="italic">T</tspan>, <tspan font-style="italic">σ</tspan>)</text>
<text x="608.7" y="13.3" font-size="7" text-anchor="start" textLength="5.6" lengthAdjust="spacingAndGlyphs">→</text>
<text x="642.1" y="20.7" font-size="10.2" text-anchor="start" textLength="29.2" lengthAdjust="spacingAndGlyphs">vs dist.</text>
<rect x="579.6" y="30.1" width="20.3" height="7.2" fill="#40923b" stroke="#222222" stroke-width="0.9"/>
<text x="607" y="37.3" font-size="10.2" text-anchor="start" textLength="35.3" lengthAdjust="spacingAndGlyphs"><tspan font-style="italic">G</tspan>(<tspan font-style="italic">T</tspan><tspan font-size="8" dy="-2.6">*</tspan><tspan dy="2.6">,</tspan> <tspan font-style="italic">σ</tspan>)</text>
<text x="608.7" y="29.9" font-size="7" text-anchor="start" textLength="5.6" lengthAdjust="spacingAndGlyphs">→</text>
<text x="646.5" y="37.3" font-size="10.2" text-anchor="start" textLength="29.2" lengthAdjust="spacingAndGlyphs">vs dist.</text>
</svg>
</body></html>
